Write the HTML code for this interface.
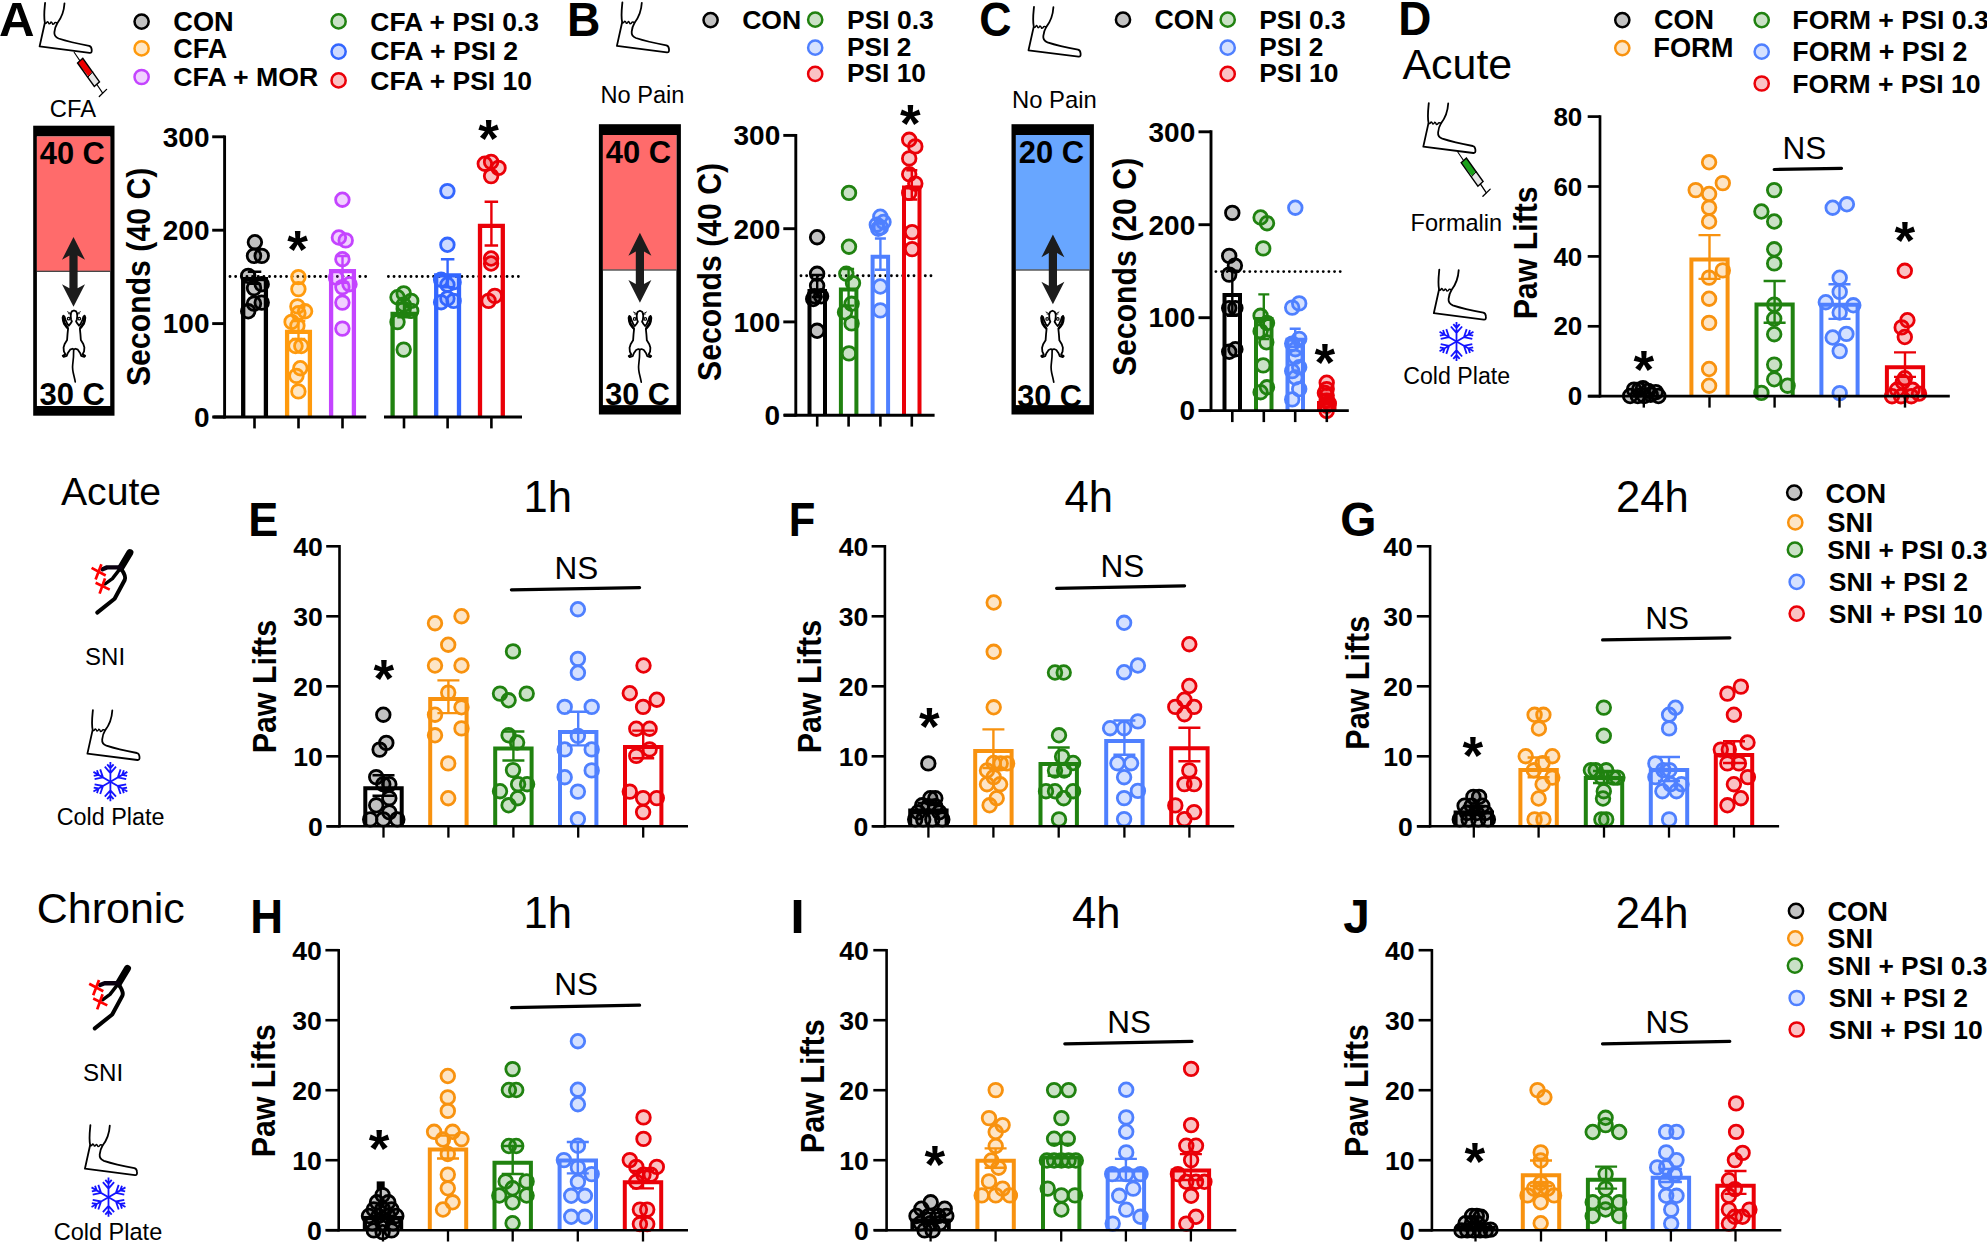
<!DOCTYPE html>
<html><head><meta charset="utf-8"><title>Figure</title>
<style>html,body{margin:0;padding:0;background:#fff;}svg{display:block;}text{font-family:"Liberation Sans",Arial,sans-serif;}</style>
</head><body>
<svg width="1987" height="1243" viewBox="0 0 1987 1243">
<rect width="1987" height="1243" fill="#fff"/>
<text transform="translate(-1.03,35.80) scale(1.0304,1)" font-weight="bold" font-size="47.8" fill="#000">A</text>
<g transform="translate(45.1,2.1) scale(1.0,1.0)" fill="none" stroke="#000" stroke-width="1.8" stroke-linejoin="round" stroke-linecap="round">
<path d="M0,0.8 C-0.6,7 -1.6,14 -0.25,20.6 L-5.5,44.3 L44.5,50.7 Q47,51 46.6,47.5 Q46.4,44.4 44,43.7 Q25,40.2 13.5,36.4 Q8.8,34.6 9.3,30 Q9.8,25 12.2,21.1 C16.5,15.6 19,8 19.4,1.2"/>
<path d="M-0.25,21.4 Q1.2,21.6 2.4,19.6 Q3.2,19.4 3.9,21.6 Q5,22 5.9,20 Q6.8,19.8 7.6,22.2 Q8.8,22.4 9.7,20.6 Q10.8,20 12.2,21.1" stroke-width="1.5"/>
</g>
<g transform="translate(0.0,0.0) scale(1.0)" stroke="#000" stroke-linecap="round">
<line x1="74.15" y1="52.3" x2="79.8" y2="60.6" stroke-width="1.1"/>
<polygon points="77.55,63 82.8,58.3 92.2,71.9 88.5,76.6 " fill="#ee0000" stroke="none"/>
<polygon points="88.5,76.6 92.2,71.9 99.5,81.8 94.3,86.5" fill="#e6e6e6" stroke="none"/>
<polygon points="77.55,63 82.8,58.3 99.5,81.8 94.3,86.5" fill="none" stroke-width="1.4" stroke-linejoin="miter"/>
<line x1="88.0" y1="77.0" x2="92.6" y2="72.1" stroke-width="1.0"/>
<line x1="96.9" y1="84.5" x2="102.6" y2="93" stroke-width="1.3"/>
<line x1="99.3" y1="96.5" x2="106.6" y2="89.4" stroke-width="1.3"/>
</g>
<text transform="translate(49.81,117.30) scale(1.0000,1)" font-size="23.75" fill="#000">CFA</text>
<circle cx="141.6" cy="21.6" r="7.1" fill="#000000" fill-opacity="0.24" stroke="#000000" stroke-width="2.5"/>
<circle cx="141.6" cy="48.4" r="7.1" fill="#ff9a0d" fill-opacity="0.24" stroke="#ff9a0d" stroke-width="2.5"/>
<circle cx="141.6" cy="77.0" r="7.1" fill="#c444ff" fill-opacity="0.24" stroke="#c444ff" stroke-width="2.5"/>
<circle cx="338.6" cy="21.4" r="7.1" fill="#208210" fill-opacity="0.24" stroke="#208210" stroke-width="2.5"/>
<circle cx="338.6" cy="51.6" r="7.1" fill="#3366ff" fill-opacity="0.24" stroke="#3366ff" stroke-width="2.5"/>
<circle cx="338.6" cy="80.4" r="7.1" fill="#ea0008" fill-opacity="0.24" stroke="#ea0008" stroke-width="2.5"/>
<text transform="translate(173.31,31.00) scale(1.0000,1)" font-weight="bold" font-size="27.19" fill="#000">CON</text>
<text transform="translate(173.32,57.60) scale(1.0000,1)" font-weight="bold" font-size="27" fill="#000">CFA</text>
<text transform="translate(173.33,86.00) scale(1.0000,1)" font-weight="bold" font-size="26.68" fill="#000">CFA + MOR</text>
<text transform="translate(370.34,31.00) scale(1.0000,1)" font-weight="bold" font-size="26.42" fill="#000">CFA + PSI 0.3</text>
<text transform="translate(370.34,60.40) scale(1.0000,1)" font-weight="bold" font-size="26.61" fill="#000">CFA + PSI 2</text>
<text transform="translate(370.34,89.60) scale(1.0000,1)" font-weight="bold" font-size="26.49" fill="#000">CFA + PSI 10</text>
<rect x="33.2" y="125.7" width="81.3" height="290.0" fill="#000"/>
<rect x="36.9" y="136.5" width="73.3" height="269.5" fill="#fff"/>
<rect x="36.9" y="136.5" width="73.3" height="134.4" fill="#ff6b6b"/>
<rect x="36.9" y="270.7" width="73.3" height="1.2" fill="#333"/>
<text transform="translate(39.74,163.60) scale(1.0000,1)" font-weight="bold" font-size="30.85" fill="#000">40 C</text>
<text transform="translate(39.43,405.30) scale(1.0000,1)" font-weight="bold" font-size="31.0" fill="#000">30 C</text>
<polygon points="73.5,236.9 85.0,259.8 77.6,255.6 77.6,288.2 85.0,284.2 73.5,306.8 62.0,284.2 69.4,288.2 69.4,255.6 62.0,259.8" fill="#1c1c1c"/>
<g transform="translate(55.00,305.00) scale(0.06431)" fill="#fff" stroke="#000" stroke-width="28" stroke-linejoin="round" stroke-linecap="round">
<path d="M290,690 C292,780 285,860 275,930 C262,1020 300,1100 315,1195" fill="none" stroke-width="26"/>
<path d="M295,85 L262,100 L245,135 L245,180 L250,225 L262,255 L240,290 L215,322 L190,290 L165,235 L150,185 L130,165 L118,195 L125,250 L140,295 L170,335 L203,372 L195,450 L188,545 L150,605 L133,660 L138,720 L160,765 L120,790 L135,805 L182,792 L200,745 L235,695 L270,680 L295,690 L320,680 L355,695 L390,745 L408,792 L455,805 L470,790 L430,765 L452,720 L457,660 L440,605 L402,545 L395,450 L387,372 L420,335 L450,295 L465,250 L472,195 L460,165 L440,185 L425,235 L400,290 L375,322 L350,290 L328,255 L340,225 L345,180 L345,135 L328,100 L295,85 Z"/>
<path d="M134,178 L146,275 L200,358 M456,178 L444,275 L390,358" fill="none" stroke-width="32"/>
<circle cx="212" cy="212" r="20" stroke-width="18"/><circle cx="378" cy="212" r="20" stroke-width="18"/>
<path d="M250,135 L195,105 M250,140 L210,135 M340,135 L395,105 M340,140 L380,135" fill="none" stroke-width="14"/>
</g>
<text transform="translate(149.90,386.11) rotate(-90) scale(1,1.08)" font-weight="bold" font-size="30.24">Seconds (40 C)</text>
<path d="M230.0,276.5 H366.5 M388.4,276.5 H522" stroke="#000" stroke-width="2.9" stroke-linecap="round" stroke-dasharray="0,5.65" fill="none"/>
<path d="M243.2,417.0 V279.1 H265.9 V417.0" fill="none" stroke="#000000" stroke-width="4.3"/>
<path d="M287.1,417.0 V331.9 H309.9 V417.0" fill="none" stroke="#ff9a0d" stroke-width="4.3"/>
<path d="M331.1,417.0 V271.1 H353.9 V417.0" fill="none" stroke="#c444ff" stroke-width="4.3"/>
<path d="M392.6,417.0 V313.8 H415.4 V417.0" fill="none" stroke="#208210" stroke-width="4.3"/>
<path d="M436.2,417.0 V275.4 H459.0 V417.0" fill="none" stroke="#3366ff" stroke-width="4.3"/>
<path d="M480.0,417.0 V225.8 H502.8 V417.0" fill="none" stroke="#ea0008" stroke-width="4.3"/>
<path d="M254.5,271.8 V283.9 M247.8,271.8 h13.5 M247.8,283.9 h13.5" fill="none" stroke="#000000" stroke-width="2.4"/>
<path d="M298.5,321.0 V339.0 M291.8,321.0 h13.5 M291.8,339.0 h13.5" fill="none" stroke="#ff9a0d" stroke-width="2.4"/>
<path d="M342.5,256.0 V282.8 M335.8,256.0 h13.5 M335.8,282.8 h13.5" fill="none" stroke="#c444ff" stroke-width="2.4"/>
<path d="M404.0,303.6 V317.3 M397.2,303.6 h13.5 M397.2,317.3 h13.5" fill="none" stroke="#208210" stroke-width="2.4"/>
<path d="M447.6,259.2 V287.2 M440.9,259.2 h13.5 M440.9,287.2 h13.5" fill="none" stroke="#3366ff" stroke-width="2.4"/>
<path d="M491.4,201.8 V245.5 M484.6,201.8 h13.5 M484.6,245.5 h13.5" fill="none" stroke="#ea0008" stroke-width="2.4"/>
<circle cx="254.9" cy="242.2" r="6.8" fill="#000000" fill-opacity="0.24" stroke="#000000" stroke-width="2.8"/>
<circle cx="254.0" cy="255.9" r="6.8" fill="#000000" fill-opacity="0.24" stroke="#000000" stroke-width="2.8"/>
<circle cx="261.7" cy="255.9" r="6.8" fill="#000000" fill-opacity="0.24" stroke="#000000" stroke-width="2.8"/>
<circle cx="248.2" cy="275.9" r="6.8" fill="#000000" fill-opacity="0.24" stroke="#000000" stroke-width="2.8"/>
<circle cx="261.7" cy="284.2" r="6.8" fill="#000000" fill-opacity="0.24" stroke="#000000" stroke-width="2.8"/>
<circle cx="254.0" cy="288.1" r="6.8" fill="#000000" fill-opacity="0.24" stroke="#000000" stroke-width="2.8"/>
<circle cx="261.7" cy="302.6" r="6.8" fill="#000000" fill-opacity="0.24" stroke="#000000" stroke-width="2.8"/>
<circle cx="254.0" cy="303.6" r="6.8" fill="#000000" fill-opacity="0.24" stroke="#000000" stroke-width="2.8"/>
<circle cx="248.2" cy="311.3" r="6.8" fill="#000000" fill-opacity="0.24" stroke="#000000" stroke-width="2.8"/>
<circle cx="298.4" cy="277.1" r="6.8" fill="#ff9a0d" fill-opacity="0.24" stroke="#ff9a0d" stroke-width="2.8"/>
<circle cx="298.4" cy="289.1" r="6.8" fill="#ff9a0d" fill-opacity="0.24" stroke="#ff9a0d" stroke-width="2.8"/>
<circle cx="297.4" cy="306.4" r="6.8" fill="#ff9a0d" fill-opacity="0.24" stroke="#ff9a0d" stroke-width="2.8"/>
<circle cx="305.1" cy="311.3" r="6.8" fill="#ff9a0d" fill-opacity="0.24" stroke="#ff9a0d" stroke-width="2.8"/>
<circle cx="298.4" cy="313.2" r="6.8" fill="#ff9a0d" fill-opacity="0.24" stroke="#ff9a0d" stroke-width="2.8"/>
<circle cx="291.6" cy="321.9" r="6.8" fill="#ff9a0d" fill-opacity="0.24" stroke="#ff9a0d" stroke-width="2.8"/>
<circle cx="297.4" cy="325.8" r="6.8" fill="#ff9a0d" fill-opacity="0.24" stroke="#ff9a0d" stroke-width="2.8"/>
<circle cx="295.5" cy="346.0" r="6.8" fill="#ff9a0d" fill-opacity="0.24" stroke="#ff9a0d" stroke-width="2.8"/>
<circle cx="301.3" cy="346.0" r="6.8" fill="#ff9a0d" fill-opacity="0.24" stroke="#ff9a0d" stroke-width="2.8"/>
<circle cx="300.3" cy="368.2" r="6.8" fill="#ff9a0d" fill-opacity="0.24" stroke="#ff9a0d" stroke-width="2.8"/>
<circle cx="296.4" cy="375.9" r="6.8" fill="#ff9a0d" fill-opacity="0.24" stroke="#ff9a0d" stroke-width="2.8"/>
<circle cx="298.4" cy="391.4" r="6.8" fill="#ff9a0d" fill-opacity="0.24" stroke="#ff9a0d" stroke-width="2.8"/>
<circle cx="342.4" cy="199.7" r="6.8" fill="#c444ff" fill-opacity="0.24" stroke="#c444ff" stroke-width="2.8"/>
<circle cx="338.9" cy="237.5" r="6.8" fill="#c444ff" fill-opacity="0.24" stroke="#c444ff" stroke-width="2.8"/>
<circle cx="345.7" cy="240.4" r="6.8" fill="#c444ff" fill-opacity="0.24" stroke="#c444ff" stroke-width="2.8"/>
<circle cx="342.4" cy="259.2" r="6.8" fill="#c444ff" fill-opacity="0.24" stroke="#c444ff" stroke-width="2.8"/>
<circle cx="336.0" cy="277.5" r="6.8" fill="#c444ff" fill-opacity="0.24" stroke="#c444ff" stroke-width="2.8"/>
<circle cx="349.5" cy="284.2" r="6.8" fill="#c444ff" fill-opacity="0.24" stroke="#c444ff" stroke-width="2.8"/>
<circle cx="342.4" cy="287.1" r="6.8" fill="#c444ff" fill-opacity="0.24" stroke="#c444ff" stroke-width="2.8"/>
<circle cx="342.4" cy="302.6" r="6.8" fill="#c444ff" fill-opacity="0.24" stroke="#c444ff" stroke-width="2.8"/>
<circle cx="342.4" cy="328.6" r="6.8" fill="#c444ff" fill-opacity="0.24" stroke="#c444ff" stroke-width="2.8"/>
<circle cx="403.7" cy="293.4" r="6.8" fill="#208210" fill-opacity="0.24" stroke="#208210" stroke-width="2.8"/>
<circle cx="397.5" cy="297.2" r="6.8" fill="#208210" fill-opacity="0.24" stroke="#208210" stroke-width="2.8"/>
<circle cx="411.2" cy="300.9" r="6.8" fill="#208210" fill-opacity="0.24" stroke="#208210" stroke-width="2.8"/>
<circle cx="403.7" cy="304.7" r="6.8" fill="#208210" fill-opacity="0.24" stroke="#208210" stroke-width="2.8"/>
<circle cx="411.2" cy="310.9" r="6.8" fill="#208210" fill-opacity="0.24" stroke="#208210" stroke-width="2.8"/>
<circle cx="397.5" cy="322.1" r="6.8" fill="#208210" fill-opacity="0.24" stroke="#208210" stroke-width="2.8"/>
<circle cx="403.7" cy="349.6" r="6.8" fill="#208210" fill-opacity="0.24" stroke="#208210" stroke-width="2.8"/>
<circle cx="403.7" cy="308.9" r="6.8" fill="#208210" fill-opacity="0.24" stroke="#208210" stroke-width="2.8"/>
<circle cx="447.4" cy="191.1" r="6.8" fill="#3366ff" fill-opacity="0.24" stroke="#3366ff" stroke-width="2.8"/>
<circle cx="447.4" cy="244.8" r="6.8" fill="#3366ff" fill-opacity="0.24" stroke="#3366ff" stroke-width="2.8"/>
<circle cx="441.1" cy="279.7" r="6.8" fill="#3366ff" fill-opacity="0.24" stroke="#3366ff" stroke-width="2.8"/>
<circle cx="453.6" cy="282.2" r="6.8" fill="#3366ff" fill-opacity="0.24" stroke="#3366ff" stroke-width="2.8"/>
<circle cx="447.4" cy="284.7" r="6.8" fill="#3366ff" fill-opacity="0.24" stroke="#3366ff" stroke-width="2.8"/>
<circle cx="441.1" cy="302.2" r="6.8" fill="#3366ff" fill-opacity="0.24" stroke="#3366ff" stroke-width="2.8"/>
<circle cx="453.6" cy="300.9" r="6.8" fill="#3366ff" fill-opacity="0.24" stroke="#3366ff" stroke-width="2.8"/>
<circle cx="447.4" cy="298.4" r="6.8" fill="#3366ff" fill-opacity="0.24" stroke="#3366ff" stroke-width="2.8"/>
<circle cx="484.8" cy="163.7" r="6.8" fill="#ea0008" fill-opacity="0.24" stroke="#ea0008" stroke-width="2.8"/>
<circle cx="491.1" cy="161.9" r="6.8" fill="#ea0008" fill-opacity="0.24" stroke="#ea0008" stroke-width="2.8"/>
<circle cx="498.5" cy="167.9" r="6.8" fill="#ea0008" fill-opacity="0.24" stroke="#ea0008" stroke-width="2.8"/>
<circle cx="491.1" cy="176.1" r="6.8" fill="#ea0008" fill-opacity="0.24" stroke="#ea0008" stroke-width="2.8"/>
<circle cx="491.1" cy="258.5" r="6.8" fill="#ea0008" fill-opacity="0.24" stroke="#ea0008" stroke-width="2.8"/>
<circle cx="491.1" cy="263.5" r="6.8" fill="#ea0008" fill-opacity="0.24" stroke="#ea0008" stroke-width="2.8"/>
<circle cx="494.8" cy="295.9" r="6.8" fill="#ea0008" fill-opacity="0.24" stroke="#ea0008" stroke-width="2.8"/>
<circle cx="488.6" cy="300.9" r="6.8" fill="#ea0008" fill-opacity="0.24" stroke="#ea0008" stroke-width="2.8"/>
<text x="287.2" y="268.3" font-weight="bold" font-size="53">*</text>
<text x="478.3" y="156.8" font-weight="bold" font-size="53">*</text>
<path d="M224.6,135.4 V418.4" stroke="#000" stroke-width="2.9" fill="none"/>
<path d="M213.4,417.0 H366.2" stroke="#000" stroke-width="2.9" fill="none"/>
<path d="M384.0,417.0 H522.0" stroke="#000" stroke-width="2.9" fill="none"/>
<path d="M212.2,417.0 H224.6" stroke="#000" stroke-width="2.9" fill="none"/>
<text x="193.88" y="426.80" font-weight="bold" font-size="28">0</text>
<path d="M212.2,323.6 H224.6" stroke="#000" stroke-width="2.9" fill="none"/>
<text x="162.80" y="333.40" font-weight="bold" font-size="28">100</text>
<path d="M212.2,230.2 H224.6" stroke="#000" stroke-width="2.9" fill="none"/>
<text x="162.80" y="240.00" font-weight="bold" font-size="28">200</text>
<path d="M212.2,136.8 H224.6" stroke="#000" stroke-width="2.9" fill="none"/>
<text x="162.80" y="146.60" font-weight="bold" font-size="28">300</text>
<path d="M254.5,417.0 V428.4" stroke="#000" stroke-width="2.6" fill="none"/>
<path d="M298.5,417.0 V428.4" stroke="#000" stroke-width="2.6" fill="none"/>
<path d="M342.5,417.0 V428.4" stroke="#000" stroke-width="2.6" fill="none"/>
<path d="M404.0,417.0 V428.4" stroke="#000" stroke-width="2.6" fill="none"/>
<path d="M447.6,417.0 V428.4" stroke="#000" stroke-width="2.6" fill="none"/>
<path d="M491.4,417.0 V428.4" stroke="#000" stroke-width="2.6" fill="none"/>
<text transform="translate(567.00,35.80) scale(0.9671,1)" font-weight="bold" font-size="47.8" fill="#000">B</text>
<g transform="translate(622.4,1.6) scale(1.0,1.0)" fill="none" stroke="#000" stroke-width="1.8" stroke-linejoin="round" stroke-linecap="round">
<path d="M0,0.8 C-0.6,7 -1.6,14 -0.25,20.6 L-5.5,44.3 L44.5,50.7 Q47,51 46.6,47.5 Q46.4,44.4 44,43.7 Q25,40.2 13.5,36.4 Q8.8,34.6 9.3,30 Q9.8,25 12.2,21.1 C16.5,15.6 19,8 19.4,1.2"/>
<path d="M-0.25,21.4 Q1.2,21.6 2.4,19.6 Q3.2,19.4 3.9,21.6 Q5,22 5.9,20 Q6.8,19.8 7.6,22.2 Q8.8,22.4 9.7,20.6 Q10.8,20 12.2,21.1" stroke-width="1.5"/>
</g>
<circle cx="710.6" cy="20.1" r="7.1" fill="#000000" fill-opacity="0.24" stroke="#000000" stroke-width="2.5"/>
<circle cx="815.2" cy="19.7" r="7.1" fill="#208210" fill-opacity="0.24" stroke="#208210" stroke-width="2.5"/>
<circle cx="815.2" cy="47.7" r="7.1" fill="#4f80ff" fill-opacity="0.24" stroke="#4f80ff" stroke-width="2.5"/>
<circle cx="815.2" cy="73.9" r="7.1" fill="#ea0008" fill-opacity="0.24" stroke="#ea0008" stroke-width="2.5"/>
<text transform="translate(742.14,29.00) scale(1.0000,1)" font-weight="bold" font-size="26.62" fill="#000">CON</text>
<text transform="translate(847.08,29.00) scale(1.0000,1)" font-weight="bold" font-size="26.42" fill="#000">PSI 0.3</text>
<text transform="translate(847.09,56.30) scale(1.0000,1)" font-weight="bold" font-size="26.28" fill="#000">PSI 2</text>
<text transform="translate(847.09,82.40) scale(1.0000,1)" font-weight="bold" font-size="26.25" fill="#000">PSI 10</text>
<text transform="translate(600.41,102.70) scale(1.0000,1)" font-size="23.61" fill="#000">No Pain</text>
<rect x="598.9" y="124.2" width="82.0" height="290.3" fill="#000"/>
<rect x="602.9" y="135.0" width="73.5" height="270.1" fill="#fff"/>
<rect x="602.9" y="135.0" width="73.5" height="134.6" fill="#ff6b6b"/>
<rect x="602.9" y="269.4" width="73.5" height="1.2" fill="#333"/>
<text transform="translate(605.74,162.70) scale(1.0000,1)" font-weight="bold" font-size="30.92" fill="#000">40 C</text>
<text transform="translate(605.13,405.00) scale(1.0000,1)" font-weight="bold" font-size="30.63" fill="#000">30 C</text>
<polygon points="639.9,232.8 651.4,255.7 644.0,251.5 644.0,284.1 651.4,280.1 639.9,302.7 628.4,280.1 635.8,284.1 635.8,251.5 628.4,255.7" fill="#1c1c1c"/>
<g transform="translate(621.00,305.30) scale(0.06431)" fill="#fff" stroke="#000" stroke-width="28" stroke-linejoin="round" stroke-linecap="round">
<path d="M290,690 C292,780 285,860 275,930 C262,1020 300,1100 315,1195" fill="none" stroke-width="26"/>
<path d="M295,85 L262,100 L245,135 L245,180 L250,225 L262,255 L240,290 L215,322 L190,290 L165,235 L150,185 L130,165 L118,195 L125,250 L140,295 L170,335 L203,372 L195,450 L188,545 L150,605 L133,660 L138,720 L160,765 L120,790 L135,805 L182,792 L200,745 L235,695 L270,680 L295,690 L320,680 L355,695 L390,745 L408,792 L455,805 L470,790 L430,765 L452,720 L457,660 L440,605 L402,545 L395,450 L387,372 L420,335 L450,295 L465,250 L472,195 L460,165 L440,185 L425,235 L400,290 L375,322 L350,290 L328,255 L340,225 L345,180 L345,135 L328,100 L295,85 Z"/>
<path d="M134,178 L146,275 L200,358 M456,178 L444,275 L390,358" fill="none" stroke-width="32"/>
<circle cx="212" cy="212" r="20" stroke-width="18"/><circle cx="378" cy="212" r="20" stroke-width="18"/>
<path d="M250,135 L195,105 M250,140 L210,135 M340,135 L395,105 M340,140 L380,135" fill="none" stroke-width="14"/>
</g>
<text transform="translate(720.90,380.91) rotate(-90) scale(1,1.09)" font-weight="bold" font-size="30.17">Seconds (40 C)</text>
<path d="M801.0,275.7 H931" stroke="#000" stroke-width="2.9" stroke-linecap="round" stroke-dasharray="0,5.65" fill="none"/>
<path d="M809.5,415.2 V290.9 H825.0 V415.2" fill="none" stroke="#000000" stroke-width="4.0"/>
<path d="M840.9,415.2 V289.6 H856.4 V415.2" fill="none" stroke="#208210" stroke-width="4.0"/>
<path d="M872.6,415.2 V256.7 H888.1 V415.2" fill="none" stroke="#4f80ff" stroke-width="4.0"/>
<path d="M904.0,415.2 V187.4 H919.5 V415.2" fill="none" stroke="#ea0008" stroke-width="4.0"/>
<path d="M817.2,275.0 V297.0 M811.7,275.0 h11 M811.7,297.0 h11" fill="none" stroke="#000000" stroke-width="2.4"/>
<path d="M848.6,269.0 V305.6 M843.1,269.0 h11 M843.1,305.6 h11" fill="none" stroke="#208210" stroke-width="2.4"/>
<path d="M880.4,238.5 V269.8 M874.9,238.5 h11 M874.9,269.8 h11" fill="none" stroke="#4f80ff" stroke-width="2.4"/>
<path d="M911.8,170.3 V199.5 M906.3,170.3 h11 M906.3,199.5 h11" fill="none" stroke="#ea0008" stroke-width="2.4"/>
<circle cx="817.1" cy="237.2" r="6.8" fill="#000000" fill-opacity="0.24" stroke="#000000" stroke-width="2.8"/>
<circle cx="817.1" cy="273.8" r="6.8" fill="#000000" fill-opacity="0.24" stroke="#000000" stroke-width="2.8"/>
<circle cx="817.1" cy="285.7" r="6.8" fill="#000000" fill-opacity="0.24" stroke="#000000" stroke-width="2.8"/>
<circle cx="814.5" cy="296.3" r="6.8" fill="#000000" fill-opacity="0.24" stroke="#000000" stroke-width="2.8"/>
<circle cx="821.1" cy="296.3" r="6.8" fill="#000000" fill-opacity="0.24" stroke="#000000" stroke-width="2.8"/>
<circle cx="813.2" cy="299.0" r="6.8" fill="#000000" fill-opacity="0.24" stroke="#000000" stroke-width="2.8"/>
<circle cx="817.1" cy="330.8" r="6.8" fill="#000000" fill-opacity="0.24" stroke="#000000" stroke-width="2.8"/>
<circle cx="849.0" cy="192.9" r="6.8" fill="#208210" fill-opacity="0.24" stroke="#208210" stroke-width="2.8"/>
<circle cx="849.0" cy="246.7" r="6.8" fill="#208210" fill-opacity="0.24" stroke="#208210" stroke-width="2.8"/>
<circle cx="846.3" cy="273.8" r="6.8" fill="#208210" fill-opacity="0.24" stroke="#208210" stroke-width="2.8"/>
<circle cx="853.0" cy="283.1" r="6.8" fill="#208210" fill-opacity="0.24" stroke="#208210" stroke-width="2.8"/>
<circle cx="851.6" cy="303.8" r="6.8" fill="#208210" fill-opacity="0.24" stroke="#208210" stroke-width="2.8"/>
<circle cx="845.0" cy="312.3" r="6.8" fill="#208210" fill-opacity="0.24" stroke="#208210" stroke-width="2.8"/>
<circle cx="851.6" cy="323.4" r="6.8" fill="#208210" fill-opacity="0.24" stroke="#208210" stroke-width="2.8"/>
<circle cx="849.0" cy="353.4" r="6.8" fill="#208210" fill-opacity="0.24" stroke="#208210" stroke-width="2.8"/>
<circle cx="880.3" cy="216.7" r="6.8" fill="#4f80ff" fill-opacity="0.24" stroke="#4f80ff" stroke-width="2.8"/>
<circle cx="883.5" cy="222.0" r="6.8" fill="#4f80ff" fill-opacity="0.24" stroke="#4f80ff" stroke-width="2.8"/>
<circle cx="876.8" cy="224.7" r="6.8" fill="#4f80ff" fill-opacity="0.24" stroke="#4f80ff" stroke-width="2.8"/>
<circle cx="880.8" cy="227.4" r="6.8" fill="#4f80ff" fill-opacity="0.24" stroke="#4f80ff" stroke-width="2.8"/>
<circle cx="878.2" cy="228.7" r="6.8" fill="#4f80ff" fill-opacity="0.24" stroke="#4f80ff" stroke-width="2.8"/>
<circle cx="880.3" cy="286.5" r="6.8" fill="#4f80ff" fill-opacity="0.24" stroke="#4f80ff" stroke-width="2.8"/>
<circle cx="880.3" cy="310.4" r="6.8" fill="#4f80ff" fill-opacity="0.24" stroke="#4f80ff" stroke-width="2.8"/>
<circle cx="909.2" cy="139.8" r="6.8" fill="#ea0008" fill-opacity="0.24" stroke="#ea0008" stroke-width="2.8"/>
<circle cx="915.3" cy="146.4" r="6.8" fill="#ea0008" fill-opacity="0.24" stroke="#ea0008" stroke-width="2.8"/>
<circle cx="909.2" cy="158.4" r="6.8" fill="#ea0008" fill-opacity="0.24" stroke="#ea0008" stroke-width="2.8"/>
<circle cx="909.2" cy="174.3" r="6.8" fill="#ea0008" fill-opacity="0.24" stroke="#ea0008" stroke-width="2.8"/>
<circle cx="915.3" cy="183.6" r="6.8" fill="#ea0008" fill-opacity="0.24" stroke="#ea0008" stroke-width="2.8"/>
<circle cx="909.2" cy="192.9" r="6.8" fill="#ea0008" fill-opacity="0.24" stroke="#ea0008" stroke-width="2.8"/>
<circle cx="912.1" cy="232.1" r="6.8" fill="#ea0008" fill-opacity="0.24" stroke="#ea0008" stroke-width="2.8"/>
<circle cx="912.1" cy="249.1" r="6.8" fill="#ea0008" fill-opacity="0.24" stroke="#ea0008" stroke-width="2.8"/>
<text x="900.0" y="142.4" font-weight="bold" font-size="53">*</text>
<path d="M795.8,134.0 V416.6" stroke="#000" stroke-width="2.9" fill="none"/>
<path d="M783.9,415.2 H934.6" stroke="#000" stroke-width="2.9" fill="none"/>
<path d="M783.3,415.2 H795.8" stroke="#000" stroke-width="2.9" fill="none"/>
<text x="764.58" y="425.00" font-weight="bold" font-size="28">0</text>
<path d="M783.3,321.9 H795.8" stroke="#000" stroke-width="2.9" fill="none"/>
<text x="733.50" y="331.75" font-weight="bold" font-size="28">100</text>
<path d="M783.3,228.7 H795.8" stroke="#000" stroke-width="2.9" fill="none"/>
<text x="733.50" y="238.50" font-weight="bold" font-size="28">200</text>
<path d="M783.3,135.4 H795.8" stroke="#000" stroke-width="2.9" fill="none"/>
<text x="733.50" y="145.25" font-weight="bold" font-size="28">300</text>
<path d="M817.2,415.2 V426.6" stroke="#000" stroke-width="2.6" fill="none"/>
<path d="M848.6,415.2 V426.6" stroke="#000" stroke-width="2.6" fill="none"/>
<path d="M880.4,415.2 V426.6" stroke="#000" stroke-width="2.6" fill="none"/>
<path d="M911.8,415.2 V426.6" stroke="#000" stroke-width="2.6" fill="none"/>
<text transform="translate(979.21,35.80) scale(0.9358,1)" font-weight="bold" font-size="47.8" fill="#000">C</text>
<g transform="translate(1034.0,6.0) scale(1.0,1.0)" fill="none" stroke="#000" stroke-width="1.8" stroke-linejoin="round" stroke-linecap="round">
<path d="M0,0.8 C-0.6,7 -1.6,14 -0.25,20.6 L-5.5,44.3 L44.5,50.7 Q47,51 46.6,47.5 Q46.4,44.4 44,43.7 Q25,40.2 13.5,36.4 Q8.8,34.6 9.3,30 Q9.8,25 12.2,21.1 C16.5,15.6 19,8 19.4,1.2"/>
<path d="M-0.25,21.4 Q1.2,21.6 2.4,19.6 Q3.2,19.4 3.9,21.6 Q5,22 5.9,20 Q6.8,19.8 7.6,22.2 Q8.8,22.4 9.7,20.6 Q10.8,20 12.2,21.1" stroke-width="1.5"/>
</g>
<circle cx="1123.0" cy="19.7" r="7.1" fill="#000000" fill-opacity="0.24" stroke="#000000" stroke-width="2.5"/>
<circle cx="1227.7" cy="19.7" r="7.1" fill="#208210" fill-opacity="0.24" stroke="#208210" stroke-width="2.5"/>
<circle cx="1227.7" cy="47.7" r="7.1" fill="#4f80ff" fill-opacity="0.24" stroke="#4f80ff" stroke-width="2.5"/>
<circle cx="1227.7" cy="73.9" r="7.1" fill="#ea0008" fill-opacity="0.24" stroke="#ea0008" stroke-width="2.5"/>
<text transform="translate(1154.53,29.00) scale(1.0000,1)" font-weight="bold" font-size="26.76" fill="#000">CON</text>
<text transform="translate(1259.19,29.00) scale(1.0000,1)" font-weight="bold" font-size="26.38" fill="#000">PSI 0.3</text>
<text transform="translate(1259.19,56.30) scale(1.0000,1)" font-weight="bold" font-size="26.24" fill="#000">PSI 2</text>
<text transform="translate(1259.18,82.40) scale(1.0000,1)" font-weight="bold" font-size="26.42" fill="#000">PSI 10</text>
<text transform="translate(1011.99,107.60) scale(1.0000,1)" font-size="23.84" fill="#000">No Pain</text>
<rect x="1011.5" y="124.2" width="82.4" height="290.3" fill="#000"/>
<rect x="1015.9" y="135.0" width="73.5" height="270.1" fill="#fff"/>
<rect x="1015.9" y="135.0" width="73.5" height="134.6" fill="#68a6ff"/>
<rect x="1015.9" y="269.4" width="73.5" height="1.2" fill="#333"/>
<text transform="translate(1018.72,162.70) scale(1.0000,1)" font-weight="bold" font-size="30.93" fill="#000">20 C</text>
<text transform="translate(1017.13,406.80) scale(1.0000,1)" font-weight="bold" font-size="30.63" fill="#000">30 C</text>
<polygon points="1052.9,234.4 1064.4,257.3 1057.0,253.1 1057.0,285.7 1064.4,281.7 1052.9,304.3 1041.4,281.7 1048.8,285.7 1048.8,253.1 1041.4,257.3" fill="#1c1c1c"/>
<g transform="translate(1033.50,305.30) scale(0.06431)" fill="#fff" stroke="#000" stroke-width="28" stroke-linejoin="round" stroke-linecap="round">
<path d="M290,690 C292,780 285,860 275,930 C262,1020 300,1100 315,1195" fill="none" stroke-width="26"/>
<path d="M295,85 L262,100 L245,135 L245,180 L250,225 L262,255 L240,290 L215,322 L190,290 L165,235 L150,185 L130,165 L118,195 L125,250 L140,295 L170,335 L203,372 L195,450 L188,545 L150,605 L133,660 L138,720 L160,765 L120,790 L135,805 L182,792 L200,745 L235,695 L270,680 L295,690 L320,680 L355,695 L390,745 L408,792 L455,805 L470,790 L430,765 L452,720 L457,660 L440,605 L402,545 L395,450 L387,372 L420,335 L450,295 L465,250 L472,195 L460,165 L440,185 L425,235 L400,290 L375,322 L350,290 L328,255 L340,225 L345,180 L345,135 L328,100 L295,85 Z"/>
<path d="M134,178 L146,275 L200,358 M456,178 L444,275 L390,358" fill="none" stroke-width="32"/>
<circle cx="212" cy="212" r="20" stroke-width="18"/><circle cx="378" cy="212" r="20" stroke-width="18"/>
<path d="M250,135 L195,105 M250,140 L210,135 M340,135 L395,105 M340,140 L380,135" fill="none" stroke-width="14"/>
</g>
<text transform="translate(1135.70,376.11) rotate(-90) scale(1,1.09)" font-weight="bold" font-size="30.23">Seconds (20 C)</text>
<path d="M1215.9,271.6 H1345.6" stroke="#000" stroke-width="2.9" stroke-linecap="round" stroke-dasharray="0,5.65" fill="none"/>
<path d="M1224.5,410.6 V295.1 H1240.0 V410.6" fill="none" stroke="#000000" stroke-width="4.0"/>
<path d="M1256.0,410.6 V319.1 H1271.5 V410.6" fill="none" stroke="#208210" stroke-width="4.0"/>
<path d="M1287.5,410.6 V339.7 H1303.0 V410.6" fill="none" stroke="#4f80ff" stroke-width="4.0"/>
<path d="M1319.0,410.6 V403.0 H1334.5 V410.6" fill="none" stroke="#ea0008" stroke-width="4.0"/>
<path d="M1232.3,270.8 V315.8 M1226.8,270.8 h11 M1226.8,315.8 h11" fill="none" stroke="#000000" stroke-width="2.4"/>
<path d="M1263.8,294.4 V339.0 M1258.3,294.4 h11 M1258.3,339.0 h11" fill="none" stroke="#208210" stroke-width="2.4"/>
<path d="M1295.2,328.7 V346.7 M1289.7,328.7 h11 M1289.7,346.7 h11" fill="none" stroke="#4f80ff" stroke-width="2.4"/>
<path d="M1326.8,398.0 V404.0 M1321.3,398.0 h11 M1321.3,404.0 h11" fill="none" stroke="#ea0008" stroke-width="2.4"/>
<circle cx="1232.3" cy="212.9" r="6.8" fill="#000000" fill-opacity="0.24" stroke="#000000" stroke-width="2.8"/>
<circle cx="1229.2" cy="255.9" r="6.8" fill="#000000" fill-opacity="0.24" stroke="#000000" stroke-width="2.8"/>
<circle cx="1234.9" cy="265.6" r="6.8" fill="#000000" fill-opacity="0.24" stroke="#000000" stroke-width="2.8"/>
<circle cx="1229.2" cy="274.6" r="6.8" fill="#000000" fill-opacity="0.24" stroke="#000000" stroke-width="2.8"/>
<circle cx="1229.2" cy="308.1" r="6.8" fill="#000000" fill-opacity="0.24" stroke="#000000" stroke-width="2.8"/>
<circle cx="1235.4" cy="308.1" r="6.8" fill="#000000" fill-opacity="0.24" stroke="#000000" stroke-width="2.8"/>
<circle cx="1229.2" cy="351.8" r="6.8" fill="#000000" fill-opacity="0.24" stroke="#000000" stroke-width="2.8"/>
<circle cx="1235.4" cy="349.2" r="6.8" fill="#000000" fill-opacity="0.24" stroke="#000000" stroke-width="2.8"/>
<circle cx="1260.6" cy="217.5" r="6.8" fill="#208210" fill-opacity="0.24" stroke="#208210" stroke-width="2.8"/>
<circle cx="1267.0" cy="223.2" r="6.8" fill="#208210" fill-opacity="0.24" stroke="#208210" stroke-width="2.8"/>
<circle cx="1263.2" cy="248.4" r="6.8" fill="#208210" fill-opacity="0.24" stroke="#208210" stroke-width="2.8"/>
<circle cx="1260.6" cy="315.8" r="6.8" fill="#208210" fill-opacity="0.24" stroke="#208210" stroke-width="2.8"/>
<circle cx="1267.0" cy="323.0" r="6.8" fill="#208210" fill-opacity="0.24" stroke="#208210" stroke-width="2.8"/>
<circle cx="1260.6" cy="331.2" r="6.8" fill="#208210" fill-opacity="0.24" stroke="#208210" stroke-width="2.8"/>
<circle cx="1266.3" cy="342.3" r="6.8" fill="#208210" fill-opacity="0.24" stroke="#208210" stroke-width="2.8"/>
<circle cx="1263.2" cy="365.4" r="6.8" fill="#208210" fill-opacity="0.24" stroke="#208210" stroke-width="2.8"/>
<circle cx="1267.0" cy="387.3" r="6.8" fill="#208210" fill-opacity="0.24" stroke="#208210" stroke-width="2.8"/>
<circle cx="1260.6" cy="392.2" r="6.8" fill="#208210" fill-opacity="0.24" stroke="#208210" stroke-width="2.8"/>
<circle cx="1295.3" cy="207.7" r="6.8" fill="#4f80ff" fill-opacity="0.24" stroke="#4f80ff" stroke-width="2.8"/>
<circle cx="1299.2" cy="303.4" r="6.8" fill="#4f80ff" fill-opacity="0.24" stroke="#4f80ff" stroke-width="2.8"/>
<circle cx="1292.2" cy="307.6" r="6.8" fill="#4f80ff" fill-opacity="0.24" stroke="#4f80ff" stroke-width="2.8"/>
<circle cx="1299.2" cy="338.9" r="6.8" fill="#4f80ff" fill-opacity="0.24" stroke="#4f80ff" stroke-width="2.8"/>
<circle cx="1292.2" cy="343.6" r="6.8" fill="#4f80ff" fill-opacity="0.24" stroke="#4f80ff" stroke-width="2.8"/>
<circle cx="1295.3" cy="349.2" r="6.8" fill="#4f80ff" fill-opacity="0.24" stroke="#4f80ff" stroke-width="2.8"/>
<circle cx="1295.3" cy="356.9" r="6.8" fill="#4f80ff" fill-opacity="0.24" stroke="#4f80ff" stroke-width="2.8"/>
<circle cx="1299.2" cy="367.2" r="6.8" fill="#4f80ff" fill-opacity="0.24" stroke="#4f80ff" stroke-width="2.8"/>
<circle cx="1292.2" cy="371.1" r="6.8" fill="#4f80ff" fill-opacity="0.24" stroke="#4f80ff" stroke-width="2.8"/>
<circle cx="1295.3" cy="377.5" r="6.8" fill="#4f80ff" fill-opacity="0.24" stroke="#4f80ff" stroke-width="2.8"/>
<circle cx="1299.2" cy="389.1" r="6.8" fill="#4f80ff" fill-opacity="0.24" stroke="#4f80ff" stroke-width="2.8"/>
<circle cx="1292.2" cy="399.4" r="6.8" fill="#4f80ff" fill-opacity="0.24" stroke="#4f80ff" stroke-width="2.8"/>
<circle cx="1326.7" cy="382.7" r="6.8" fill="#ea0008" fill-opacity="0.24" stroke="#ea0008" stroke-width="2.8"/>
<circle cx="1326.7" cy="389.1" r="6.8" fill="#ea0008" fill-opacity="0.24" stroke="#ea0008" stroke-width="2.8"/>
<circle cx="1326.7" cy="395.5" r="6.8" fill="#ea0008" fill-opacity="0.24" stroke="#ea0008" stroke-width="2.8"/>
<circle cx="1326.7" cy="400.7" r="6.8" fill="#ea0008" fill-opacity="0.24" stroke="#ea0008" stroke-width="2.8"/>
<circle cx="1326.7" cy="405.8" r="6.8" fill="#ea0008" fill-opacity="0.24" stroke="#ea0008" stroke-width="2.8"/>
<circle cx="1326.7" cy="411.0" r="6.8" fill="#ea0008" fill-opacity="0.24" stroke="#ea0008" stroke-width="2.8"/>
<circle cx="1324.9" cy="393.0" r="6.8" fill="#ea0008" fill-opacity="0.24" stroke="#ea0008" stroke-width="2.8"/>
<circle cx="1328.8" cy="403.2" r="6.8" fill="#ea0008" fill-opacity="0.24" stroke="#ea0008" stroke-width="2.8"/>
<text x="1314.6" y="381.2" font-weight="bold" font-size="53">*</text>
<path d="M1211.0,130.3 V412.1" stroke="#000" stroke-width="2.9" fill="none"/>
<path d="M1199.0,410.6 H1348.8" stroke="#000" stroke-width="2.9" fill="none"/>
<path d="M1198.5,410.6 H1211.0" stroke="#000" stroke-width="2.9" fill="none"/>
<text x="1179.58" y="420.40" font-weight="bold" font-size="28">0</text>
<path d="M1198.5,317.7 H1211.0" stroke="#000" stroke-width="2.9" fill="none"/>
<text x="1148.50" y="327.45" font-weight="bold" font-size="28">100</text>
<path d="M1198.5,224.7 H1211.0" stroke="#000" stroke-width="2.9" fill="none"/>
<text x="1148.50" y="234.50" font-weight="bold" font-size="28">200</text>
<path d="M1198.5,131.8 H1211.0" stroke="#000" stroke-width="2.9" fill="none"/>
<text x="1148.50" y="141.55" font-weight="bold" font-size="28">300</text>
<path d="M1232.3,410.6 V422.1" stroke="#000" stroke-width="2.6" fill="none"/>
<path d="M1263.8,410.6 V422.1" stroke="#000" stroke-width="2.6" fill="none"/>
<path d="M1295.2,410.6 V422.1" stroke="#000" stroke-width="2.6" fill="none"/>
<path d="M1326.8,410.6 V422.1" stroke="#000" stroke-width="2.6" fill="none"/>
<text transform="translate(1398.22,34.80) scale(0.9593,1)" font-weight="bold" font-size="47.8" fill="#000">D</text>
<text transform="translate(1402.39,78.70) scale(1.0000,1)" font-size="42.95" fill="#000">Acute</text>
<circle cx="1622.3" cy="20.1" r="7.1" fill="#000000" fill-opacity="0.24" stroke="#000000" stroke-width="2.5"/>
<circle cx="1622.3" cy="48.1" r="7.1" fill="#f8920f" fill-opacity="0.24" stroke="#f8920f" stroke-width="2.5"/>
<circle cx="1761.7" cy="20.1" r="7.1" fill="#208210" fill-opacity="0.24" stroke="#208210" stroke-width="2.5"/>
<circle cx="1761.7" cy="51.7" r="7.1" fill="#4f80ff" fill-opacity="0.24" stroke="#4f80ff" stroke-width="2.5"/>
<circle cx="1761.7" cy="83.5" r="7.1" fill="#ea0008" fill-opacity="0.24" stroke="#ea0008" stroke-width="2.5"/>
<text transform="translate(1653.92,28.50) scale(1.0000,1)" font-weight="bold" font-size="27.0" fill="#000">CON</text>
<text transform="translate(1653.23,56.50) scale(1.0000,1)" font-weight="bold" font-size="27.26" fill="#000">FORM</text>
<text transform="translate(1792.36,28.50) scale(1.0000,1)" font-weight="bold" font-size="26.7" fill="#000">FORM + PSI 0.3</text>
<text transform="translate(1792.36,61.00) scale(1.0000,1)" font-weight="bold" font-size="26.8" fill="#000">FORM + PSI 2</text>
<text transform="translate(1792.37,92.50) scale(1.0000,1)" font-weight="bold" font-size="26.56" fill="#000">FORM + PSI 10</text>
<g transform="translate(1428.8,102.3) scale(1.0,1.0)" fill="none" stroke="#000" stroke-width="1.8" stroke-linejoin="round" stroke-linecap="round">
<path d="M0,0.8 C-0.6,7 -1.6,14 -0.25,20.6 L-5.5,44.3 L44.5,50.7 Q47,51 46.6,47.5 Q46.4,44.4 44,43.7 Q25,40.2 13.5,36.4 Q8.8,34.6 9.3,30 Q9.8,25 12.2,21.1 C16.5,15.6 19,8 19.4,1.2"/>
<path d="M-0.25,21.4 Q1.2,21.6 2.4,19.6 Q3.2,19.4 3.9,21.6 Q5,22 5.9,20 Q6.8,19.8 7.6,22.2 Q8.8,22.4 9.7,20.6 Q10.8,20 12.2,21.1" stroke-width="1.5"/>
</g>
<g transform="translate(1383.6,99.7) scale(1.0)" stroke="#000" stroke-linecap="round">
<line x1="74.15" y1="52.3" x2="79.8" y2="60.6" stroke-width="1.1"/>
<polygon points="77.55,63 82.8,58.3 92.2,71.9 88.5,76.6 " fill="#1aa01a" stroke="none"/>
<polygon points="88.5,76.6 92.2,71.9 99.5,81.8 94.3,86.5" fill="#e6e6e6" stroke="none"/>
<polygon points="77.55,63 82.8,58.3 99.5,81.8 94.3,86.5" fill="none" stroke-width="1.4" stroke-linejoin="miter"/>
<line x1="88.0" y1="77.0" x2="92.6" y2="72.1" stroke-width="1.0"/>
<line x1="96.9" y1="84.5" x2="102.6" y2="93" stroke-width="1.3"/>
<line x1="99.3" y1="96.5" x2="106.6" y2="89.4" stroke-width="1.3"/>
</g>
<text transform="translate(1410.62,231.20) scale(1.0000,1)" font-size="23.52" fill="#000">Formalin</text>
<g transform="translate(1439.3,268.9) scale(1.0,1.0)" fill="none" stroke="#000" stroke-width="1.8" stroke-linejoin="round" stroke-linecap="round">
<path d="M0,0.8 C-0.6,7 -1.6,14 -0.25,20.6 L-5.5,44.3 L44.5,50.7 Q47,51 46.6,47.5 Q46.4,44.4 44,43.7 Q25,40.2 13.5,36.4 Q8.8,34.6 9.3,30 Q9.8,25 12.2,21.1 C16.5,15.6 19,8 19.4,1.2"/>
<path d="M-0.25,21.4 Q1.2,21.6 2.4,19.6 Q3.2,19.4 3.9,21.6 Q5,22 5.9,20 Q6.8,19.8 7.6,22.2 Q8.8,22.4 9.7,20.6 Q10.8,20 12.2,21.1" stroke-width="1.5"/>
</g>
<g transform="translate(1456.5,341.5)" stroke="#1414ff" stroke-width="1.8" fill="none" stroke-linecap="butt">
<g transform="rotate(0)"><path d="M0,0 V-19.6 M0,-8.6 L-5.6,-15 M0,-8.6 L5.6,-15 M0,-13.6 L-3.2,-17.4 M0,-13.6 L3.2,-17.4"/></g>
<g transform="rotate(60)"><path d="M0,0 V-19.6 M0,-8.6 L-5.6,-15 M0,-8.6 L5.6,-15 M0,-13.6 L-3.2,-17.4 M0,-13.6 L3.2,-17.4"/></g>
<g transform="rotate(120)"><path d="M0,0 V-19.6 M0,-8.6 L-5.6,-15 M0,-8.6 L5.6,-15 M0,-13.6 L-3.2,-17.4 M0,-13.6 L3.2,-17.4"/></g>
<g transform="rotate(180)"><path d="M0,0 V-19.6 M0,-8.6 L-5.6,-15 M0,-8.6 L5.6,-15 M0,-13.6 L-3.2,-17.4 M0,-13.6 L3.2,-17.4"/></g>
<g transform="rotate(240)"><path d="M0,0 V-19.6 M0,-8.6 L-5.6,-15 M0,-8.6 L5.6,-15 M0,-13.6 L-3.2,-17.4 M0,-13.6 L3.2,-17.4"/></g>
<g transform="rotate(300)"><path d="M0,0 V-19.6 M0,-8.6 L-5.6,-15 M0,-8.6 L5.6,-15 M0,-13.6 L-3.2,-17.4 M0,-13.6 L3.2,-17.4"/></g>
</g>
<text transform="translate(1403.24,384.40) scale(1.0000,1)" font-size="23.16" fill="#000">Cold Plate</text>
<text transform="translate(1537.00,319.37) rotate(-90) scale(1,1.08)" font-weight="bold" font-size="30.32">Paw Lifts</text>
<path d="M1691.4,396.2 V259.5 H1727.6 V396.2" fill="none" stroke="#f8920f" stroke-width="4.0"/>
<path d="M1756.5,396.2 V304.6 H1792.7 V396.2" fill="none" stroke="#208210" stroke-width="4.0"/>
<path d="M1821.4,396.2 V304.7 H1857.6 V396.2" fill="none" stroke="#4f80ff" stroke-width="4.0"/>
<path d="M1886.9,396.2 V367.3 H1923.1 V396.2" fill="none" stroke="#ea0008" stroke-width="4.0"/>
<path d="M1709.5,235.1 V278.9 M1698.5,235.1 h22 M1698.5,278.9 h22" fill="none" stroke="#f8920f" stroke-width="2.4"/>
<path d="M1774.6,281.0 V322.7 M1763.6,281.0 h22 M1763.6,322.7 h22" fill="none" stroke="#208210" stroke-width="2.4"/>
<path d="M1839.5,284.2 V318.9 M1828.5,284.2 h22 M1828.5,318.9 h22" fill="none" stroke="#4f80ff" stroke-width="2.4"/>
<path d="M1905.0,352.4 V376.9 M1894.0,352.4 h22 M1894.0,376.9 h22" fill="none" stroke="#ea0008" stroke-width="2.4"/>
<circle cx="1630.1" cy="396.0" r="6.8" fill="#000000" fill-opacity="0.24" stroke="#000000" stroke-width="2.8"/>
<circle cx="1634.0" cy="389.6" r="6.8" fill="#000000" fill-opacity="0.24" stroke="#000000" stroke-width="2.8"/>
<circle cx="1639.1" cy="389.6" r="6.8" fill="#000000" fill-opacity="0.24" stroke="#000000" stroke-width="2.8"/>
<circle cx="1643.0" cy="388.3" r="6.8" fill="#000000" fill-opacity="0.24" stroke="#000000" stroke-width="2.8"/>
<circle cx="1644.2" cy="396.0" r="6.8" fill="#000000" fill-opacity="0.24" stroke="#000000" stroke-width="2.8"/>
<circle cx="1650.7" cy="394.7" r="6.8" fill="#000000" fill-opacity="0.24" stroke="#000000" stroke-width="2.8"/>
<circle cx="1655.8" cy="392.1" r="6.8" fill="#000000" fill-opacity="0.24" stroke="#000000" stroke-width="2.8"/>
<circle cx="1658.4" cy="396.0" r="6.8" fill="#000000" fill-opacity="0.24" stroke="#000000" stroke-width="2.8"/>
<circle cx="1637.8" cy="396.0" r="6.8" fill="#000000" fill-opacity="0.24" stroke="#000000" stroke-width="2.8"/>
<circle cx="1648.1" cy="390.9" r="6.8" fill="#000000" fill-opacity="0.24" stroke="#000000" stroke-width="2.8"/>
<circle cx="1709.1" cy="162.3" r="6.8" fill="#f8920f" fill-opacity="0.24" stroke="#f8920f" stroke-width="2.8"/>
<circle cx="1722.8" cy="183.1" r="6.8" fill="#f8920f" fill-opacity="0.24" stroke="#f8920f" stroke-width="2.8"/>
<circle cx="1695.7" cy="190.1" r="6.8" fill="#f8920f" fill-opacity="0.24" stroke="#f8920f" stroke-width="2.8"/>
<circle cx="1709.1" cy="194.0" r="6.8" fill="#f8920f" fill-opacity="0.24" stroke="#f8920f" stroke-width="2.8"/>
<circle cx="1709.1" cy="207.6" r="6.8" fill="#f8920f" fill-opacity="0.24" stroke="#f8920f" stroke-width="2.8"/>
<circle cx="1709.1" cy="221.5" r="6.8" fill="#f8920f" fill-opacity="0.24" stroke="#f8920f" stroke-width="2.8"/>
<circle cx="1722.8" cy="270.4" r="6.8" fill="#f8920f" fill-opacity="0.24" stroke="#f8920f" stroke-width="2.8"/>
<circle cx="1709.1" cy="277.6" r="6.8" fill="#f8920f" fill-opacity="0.24" stroke="#f8920f" stroke-width="2.8"/>
<circle cx="1709.1" cy="298.7" r="6.8" fill="#f8920f" fill-opacity="0.24" stroke="#f8920f" stroke-width="2.8"/>
<circle cx="1709.1" cy="322.9" r="6.8" fill="#f8920f" fill-opacity="0.24" stroke="#f8920f" stroke-width="2.8"/>
<circle cx="1709.1" cy="369.0" r="6.8" fill="#f8920f" fill-opacity="0.24" stroke="#f8920f" stroke-width="2.8"/>
<circle cx="1709.1" cy="385.7" r="6.8" fill="#f8920f" fill-opacity="0.24" stroke="#f8920f" stroke-width="2.8"/>
<circle cx="1774.2" cy="190.1" r="6.8" fill="#208210" fill-opacity="0.24" stroke="#208210" stroke-width="2.8"/>
<circle cx="1761.4" cy="211.5" r="6.8" fill="#208210" fill-opacity="0.24" stroke="#208210" stroke-width="2.8"/>
<circle cx="1774.2" cy="221.5" r="6.8" fill="#208210" fill-opacity="0.24" stroke="#208210" stroke-width="2.8"/>
<circle cx="1774.2" cy="249.3" r="6.8" fill="#208210" fill-opacity="0.24" stroke="#208210" stroke-width="2.8"/>
<circle cx="1774.2" cy="263.4" r="6.8" fill="#208210" fill-opacity="0.24" stroke="#208210" stroke-width="2.8"/>
<circle cx="1774.2" cy="304.6" r="6.8" fill="#208210" fill-opacity="0.24" stroke="#208210" stroke-width="2.8"/>
<circle cx="1774.2" cy="318.8" r="6.8" fill="#208210" fill-opacity="0.24" stroke="#208210" stroke-width="2.8"/>
<circle cx="1774.2" cy="334.2" r="6.8" fill="#208210" fill-opacity="0.24" stroke="#208210" stroke-width="2.8"/>
<circle cx="1774.2" cy="364.6" r="6.8" fill="#208210" fill-opacity="0.24" stroke="#208210" stroke-width="2.8"/>
<circle cx="1774.2" cy="379.3" r="6.8" fill="#208210" fill-opacity="0.24" stroke="#208210" stroke-width="2.8"/>
<circle cx="1787.6" cy="385.7" r="6.8" fill="#208210" fill-opacity="0.24" stroke="#208210" stroke-width="2.8"/>
<circle cx="1761.4" cy="392.9" r="6.8" fill="#208210" fill-opacity="0.24" stroke="#208210" stroke-width="2.8"/>
<circle cx="1832.7" cy="207.7" r="6.8" fill="#4f80ff" fill-opacity="0.24" stroke="#4f80ff" stroke-width="2.8"/>
<circle cx="1846.9" cy="204.3" r="6.8" fill="#4f80ff" fill-opacity="0.24" stroke="#4f80ff" stroke-width="2.8"/>
<circle cx="1839.7" cy="277.7" r="6.8" fill="#4f80ff" fill-opacity="0.24" stroke="#4f80ff" stroke-width="2.8"/>
<circle cx="1839.7" cy="291.9" r="6.8" fill="#4f80ff" fill-opacity="0.24" stroke="#4f80ff" stroke-width="2.8"/>
<circle cx="1825.8" cy="302.2" r="6.8" fill="#4f80ff" fill-opacity="0.24" stroke="#4f80ff" stroke-width="2.8"/>
<circle cx="1853.3" cy="305.3" r="6.8" fill="#4f80ff" fill-opacity="0.24" stroke="#4f80ff" stroke-width="2.8"/>
<circle cx="1839.7" cy="312.5" r="6.8" fill="#4f80ff" fill-opacity="0.24" stroke="#4f80ff" stroke-width="2.8"/>
<circle cx="1832.7" cy="337.5" r="6.8" fill="#4f80ff" fill-opacity="0.24" stroke="#4f80ff" stroke-width="2.8"/>
<circle cx="1846.4" cy="333.9" r="6.8" fill="#4f80ff" fill-opacity="0.24" stroke="#4f80ff" stroke-width="2.8"/>
<circle cx="1839.7" cy="351.1" r="6.8" fill="#4f80ff" fill-opacity="0.24" stroke="#4f80ff" stroke-width="2.8"/>
<circle cx="1839.7" cy="393.1" r="6.8" fill="#4f80ff" fill-opacity="0.24" stroke="#4f80ff" stroke-width="2.8"/>
<circle cx="1904.8" cy="270.8" r="6.8" fill="#ea0008" fill-opacity="0.24" stroke="#ea0008" stroke-width="2.8"/>
<circle cx="1907.4" cy="320.2" r="6.8" fill="#ea0008" fill-opacity="0.24" stroke="#ea0008" stroke-width="2.8"/>
<circle cx="1901.7" cy="327.4" r="6.8" fill="#ea0008" fill-opacity="0.24" stroke="#ea0008" stroke-width="2.8"/>
<circle cx="1904.8" cy="337.0" r="6.8" fill="#ea0008" fill-opacity="0.24" stroke="#ea0008" stroke-width="2.8"/>
<circle cx="1904.8" cy="378.2" r="6.8" fill="#ea0008" fill-opacity="0.24" stroke="#ea0008" stroke-width="2.8"/>
<circle cx="1902.8" cy="382.0" r="6.8" fill="#ea0008" fill-opacity="0.24" stroke="#ea0008" stroke-width="2.8"/>
<circle cx="1892.0" cy="396.2" r="6.8" fill="#ea0008" fill-opacity="0.24" stroke="#ea0008" stroke-width="2.8"/>
<circle cx="1901.0" cy="396.2" r="6.8" fill="#ea0008" fill-opacity="0.24" stroke="#ea0008" stroke-width="2.8"/>
<circle cx="1911.3" cy="396.2" r="6.8" fill="#ea0008" fill-opacity="0.24" stroke="#ea0008" stroke-width="2.8"/>
<circle cx="1919.0" cy="393.6" r="6.8" fill="#ea0008" fill-opacity="0.24" stroke="#ea0008" stroke-width="2.8"/>
<circle cx="1897.1" cy="389.8" r="6.8" fill="#ea0008" fill-opacity="0.24" stroke="#ea0008" stroke-width="2.8"/>
<circle cx="1912.6" cy="389.8" r="6.8" fill="#ea0008" fill-opacity="0.24" stroke="#ea0008" stroke-width="2.8"/>
<text x="1804.40" y="159.20" text-anchor="middle" font-size="31.5" fill="#000">NS</text>
<line x1="1774.2" y1="169.5" x2="1841.5" y2="168.3" stroke="#000" stroke-width="3.2" stroke-linecap="round"/>
<text x="1633.4" y="388.1" font-weight="bold" font-size="53">*</text>
<text x="1894.5" y="259.4" font-weight="bold" font-size="53">*</text>
<path d="M1600.0,115.2 V397.6" stroke="#000" stroke-width="2.7" fill="none"/>
<path d="M1588.3,396.2 H1949.8" stroke="#000" stroke-width="2.7" fill="none"/>
<path d="M1587.7,396.2 H1600.0" stroke="#000" stroke-width="2.7" fill="none"/>
<text x="1567.81" y="405.30" font-weight="bold" font-size="26">0</text>
<path d="M1587.7,326.3 H1600.0" stroke="#000" stroke-width="2.7" fill="none"/>
<text x="1553.38" y="335.40" font-weight="bold" font-size="26">20</text>
<path d="M1587.7,256.4 H1600.0" stroke="#000" stroke-width="2.7" fill="none"/>
<text x="1553.38" y="265.50" font-weight="bold" font-size="26">40</text>
<path d="M1587.7,186.5 H1600.0" stroke="#000" stroke-width="2.7" fill="none"/>
<text x="1553.38" y="195.60" font-weight="bold" font-size="26">60</text>
<path d="M1587.7,116.6 H1600.0" stroke="#000" stroke-width="2.7" fill="none"/>
<text x="1553.38" y="125.70" font-weight="bold" font-size="26">80</text>
<path d="M1643.8,396.2 V407.6" stroke="#000" stroke-width="2.4000000000000004" fill="none"/>
<path d="M1709.5,396.2 V407.6" stroke="#000" stroke-width="2.4000000000000004" fill="none"/>
<path d="M1774.6,396.2 V407.6" stroke="#000" stroke-width="2.4000000000000004" fill="none"/>
<path d="M1839.5,396.2 V407.6" stroke="#000" stroke-width="2.4000000000000004" fill="none"/>
<path d="M1905.0,396.2 V407.6" stroke="#000" stroke-width="2.4000000000000004" fill="none"/>
<text transform="translate(60.90,504.70) scale(1.0000,1)" font-size="39.2" fill="#000">Acute</text>
<g transform="translate(0.0,0.0)" fill="none" stroke-linecap="round" stroke-linejoin="round">
<path d="M129.9,552.6 L120.7,568" stroke="#000" stroke-width="7"/>
<path d="M121.2,568.8 Q126.5,576.5 124.7,580 L114.6,598.7 L97.2,612.6" stroke="#000" stroke-width="4"/>
<path d="M120.5,567.4 L107,567.4 L102.5,569.2" stroke="#0a0010" stroke-width="4.4"/>
<path d="M118.6,570.6 L112.4,578.6 L105,584" stroke="#000" stroke-width="3.4"/>
<path d="M91.6,567.9 L105.7,575.5 M101.4,564.3 L95.6,579.5" stroke="#ff0000" stroke-width="2.7" stroke-linecap="butt"/>
<path d="M95.6,582.7 L109.7,589.6 M105,578.4 L99.6,593.6" stroke="#ff0000" stroke-width="2.7" stroke-linecap="butt"/>
</g>
<text transform="translate(85.12,665.00) scale(1.0000,1)" font-size="23.99" fill="#000">SNI</text>
<g transform="translate(92.9,709.3) scale(1.0,1.0)" fill="none" stroke="#000" stroke-width="1.8" stroke-linejoin="round" stroke-linecap="round">
<path d="M0,0.8 C-0.6,7 -1.6,14 -0.25,20.6 L-5.5,44.3 L44.5,50.7 Q47,51 46.6,47.5 Q46.4,44.4 44,43.7 Q25,40.2 13.5,36.4 Q8.8,34.6 9.3,30 Q9.8,25 12.2,21.1 C16.5,15.6 19,8 19.4,1.2"/>
<path d="M-0.25,21.4 Q1.2,21.6 2.4,19.6 Q3.2,19.4 3.9,21.6 Q5,22 5.9,20 Q6.8,19.8 7.6,22.2 Q8.8,22.4 9.7,20.6 Q10.8,20 12.2,21.1" stroke-width="1.5"/>
</g>
<g transform="translate(110.4,781.7)" stroke="#1414ff" stroke-width="1.8" fill="none" stroke-linecap="butt">
<g transform="rotate(0)"><path d="M0,0 V-19.6 M0,-8.6 L-5.6,-15 M0,-8.6 L5.6,-15 M0,-13.6 L-3.2,-17.4 M0,-13.6 L3.2,-17.4"/></g>
<g transform="rotate(60)"><path d="M0,0 V-19.6 M0,-8.6 L-5.6,-15 M0,-8.6 L5.6,-15 M0,-13.6 L-3.2,-17.4 M0,-13.6 L3.2,-17.4"/></g>
<g transform="rotate(120)"><path d="M0,0 V-19.6 M0,-8.6 L-5.6,-15 M0,-8.6 L5.6,-15 M0,-13.6 L-3.2,-17.4 M0,-13.6 L3.2,-17.4"/></g>
<g transform="rotate(180)"><path d="M0,0 V-19.6 M0,-8.6 L-5.6,-15 M0,-8.6 L5.6,-15 M0,-13.6 L-3.2,-17.4 M0,-13.6 L3.2,-17.4"/></g>
<g transform="rotate(240)"><path d="M0,0 V-19.6 M0,-8.6 L-5.6,-15 M0,-8.6 L5.6,-15 M0,-13.6 L-3.2,-17.4 M0,-13.6 L3.2,-17.4"/></g>
<g transform="rotate(300)"><path d="M0,0 V-19.6 M0,-8.6 L-5.6,-15 M0,-8.6 L5.6,-15 M0,-13.6 L-3.2,-17.4 M0,-13.6 L3.2,-17.4"/></g>
</g>
<text transform="translate(56.73,824.90) scale(1.0000,1)" font-size="23.36" fill="#000">Cold Plate</text>
<text transform="translate(36.85,922.50) scale(1.0000,1)" font-size="42.94" fill="#000">Chronic</text>
<g transform="translate(-2.4,415.8)" fill="none" stroke-linecap="round" stroke-linejoin="round">
<path d="M129.9,552.6 L120.7,568" stroke="#000" stroke-width="7"/>
<path d="M121.2,568.8 Q126.5,576.5 124.7,580 L114.6,598.7 L97.2,612.6" stroke="#000" stroke-width="4"/>
<path d="M120.5,567.4 L107,567.4 L102.5,569.2" stroke="#0a0010" stroke-width="4.4"/>
<path d="M118.6,570.6 L112.4,578.6 L105,584" stroke="#000" stroke-width="3.4"/>
<path d="M91.6,567.9 L105.7,575.5 M101.4,564.3 L95.6,579.5" stroke="#ff0000" stroke-width="2.7" stroke-linecap="butt"/>
<path d="M95.6,582.7 L109.7,589.6 M105,578.4 L99.6,593.6" stroke="#ff0000" stroke-width="2.7" stroke-linecap="butt"/>
</g>
<text transform="translate(82.91,1081.20) scale(1.0000,1)" font-size="24.18" fill="#000">SNI</text>
<g transform="translate(90.4,1124.4) scale(1.0,1.0)" fill="none" stroke="#000" stroke-width="1.8" stroke-linejoin="round" stroke-linecap="round">
<path d="M0,0.8 C-0.6,7 -1.6,14 -0.25,20.6 L-5.5,44.3 L44.5,50.7 Q47,51 46.6,47.5 Q46.4,44.4 44,43.7 Q25,40.2 13.5,36.4 Q8.8,34.6 9.3,30 Q9.8,25 12.2,21.1 C16.5,15.6 19,8 19.4,1.2"/>
<path d="M-0.25,21.4 Q1.2,21.6 2.4,19.6 Q3.2,19.4 3.9,21.6 Q5,22 5.9,20 Q6.8,19.8 7.6,22.2 Q8.8,22.4 9.7,20.6 Q10.8,20 12.2,21.1" stroke-width="1.5"/>
</g>
<g transform="translate(108.5,1197.2)" stroke="#1414ff" stroke-width="1.8" fill="none" stroke-linecap="butt">
<g transform="rotate(0)"><path d="M0,0 V-19.6 M0,-8.6 L-5.6,-15 M0,-8.6 L5.6,-15 M0,-13.6 L-3.2,-17.4 M0,-13.6 L3.2,-17.4"/></g>
<g transform="rotate(60)"><path d="M0,0 V-19.6 M0,-8.6 L-5.6,-15 M0,-8.6 L5.6,-15 M0,-13.6 L-3.2,-17.4 M0,-13.6 L3.2,-17.4"/></g>
<g transform="rotate(120)"><path d="M0,0 V-19.6 M0,-8.6 L-5.6,-15 M0,-8.6 L5.6,-15 M0,-13.6 L-3.2,-17.4 M0,-13.6 L3.2,-17.4"/></g>
<g transform="rotate(180)"><path d="M0,0 V-19.6 M0,-8.6 L-5.6,-15 M0,-8.6 L5.6,-15 M0,-13.6 L-3.2,-17.4 M0,-13.6 L3.2,-17.4"/></g>
<g transform="rotate(240)"><path d="M0,0 V-19.6 M0,-8.6 L-5.6,-15 M0,-8.6 L5.6,-15 M0,-13.6 L-3.2,-17.4 M0,-13.6 L3.2,-17.4"/></g>
<g transform="rotate(300)"><path d="M0,0 V-19.6 M0,-8.6 L-5.6,-15 M0,-8.6 L5.6,-15 M0,-13.6 L-3.2,-17.4 M0,-13.6 L3.2,-17.4"/></g>
</g>
<text transform="translate(53.72,1240.40) scale(1.0000,1)" font-size="23.52" fill="#000">Cold Plate</text>
<circle cx="1794.2" cy="492.6" r="7.1" fill="#000000" fill-opacity="0.24" stroke="#000000" stroke-width="2.5"/>
<circle cx="1795.3" cy="522.4" r="7.1" fill="#f8920f" fill-opacity="0.24" stroke="#f8920f" stroke-width="2.5"/>
<circle cx="1794.9" cy="549.7" r="7.1" fill="#208210" fill-opacity="0.24" stroke="#208210" stroke-width="2.5"/>
<circle cx="1796.7" cy="581.9" r="7.1" fill="#4f80ff" fill-opacity="0.24" stroke="#4f80ff" stroke-width="2.5"/>
<circle cx="1796.7" cy="613.6" r="7.1" fill="#ea0008" fill-opacity="0.24" stroke="#ea0008" stroke-width="2.5"/>
<text transform="translate(1825.61,502.60) scale(1.0000,1)" font-weight="bold" font-size="27.19" fill="#000">CON</text>
<text transform="translate(1827.28,531.70) scale(1.0000,1)" font-weight="bold" font-size="27.45" fill="#000">SNI</text>
<text transform="translate(1827.31,559.10) scale(1.0000,1)" font-weight="bold" font-size="26.3" fill="#000">SNI + PSI 0.3</text>
<text transform="translate(1828.70,591.20) scale(1.0000,1)" font-weight="bold" font-size="26.53" fill="#000">SNI + PSI 2</text>
<text transform="translate(1828.70,623.00) scale(1.0000,1)" font-weight="bold" font-size="26.52" fill="#000">SNI + PSI 10</text>
<circle cx="1796.0" cy="910.9" r="7.1" fill="#000000" fill-opacity="0.24" stroke="#000000" stroke-width="2.5"/>
<circle cx="1795.3" cy="938.3" r="7.1" fill="#f8920f" fill-opacity="0.24" stroke="#f8920f" stroke-width="2.5"/>
<circle cx="1794.9" cy="965.6" r="7.1" fill="#208210" fill-opacity="0.24" stroke="#208210" stroke-width="2.5"/>
<circle cx="1796.7" cy="998.0" r="7.1" fill="#4f80ff" fill-opacity="0.24" stroke="#4f80ff" stroke-width="2.5"/>
<circle cx="1796.7" cy="1029.5" r="7.1" fill="#ea0008" fill-opacity="0.24" stroke="#ea0008" stroke-width="2.5"/>
<text transform="translate(1827.41,920.60) scale(1.0000,1)" font-weight="bold" font-size="27.28" fill="#000">CON</text>
<text transform="translate(1827.28,947.60) scale(1.0000,1)" font-weight="bold" font-size="27.45" fill="#000">SNI</text>
<text transform="translate(1827.31,975.00) scale(1.0000,1)" font-weight="bold" font-size="26.3" fill="#000">SNI + PSI 0.3</text>
<text transform="translate(1828.70,1007.40) scale(1.0000,1)" font-weight="bold" font-size="26.53" fill="#000">SNI + PSI 2</text>
<text transform="translate(1828.70,1039.30) scale(1.0000,1)" font-weight="bold" font-size="26.52" fill="#000">SNI + PSI 10</text>
<text transform="translate(248.37,535.80) scale(0.9442,1)" font-weight="bold" font-size="47.8" fill="#000">E</text>
<text transform="translate(523.43,511.80) scale(1.0000,1)" font-size="43.6" fill="#000">1h</text>
<text transform="translate(276.20,753.28) rotate(-90) scale(1,1.08)" font-weight="bold" font-size="30.39">Paw Lifts</text>
<path d="M365.3,826.3 V788.3 H401.7 V826.3" fill="none" stroke="#000000" stroke-width="4.0"/>
<path d="M430.2,826.3 V699.1 H466.6 V826.3" fill="none" stroke="#f8920f" stroke-width="4.0"/>
<path d="M495.2,826.3 V748.6 H531.6 V826.3" fill="none" stroke="#208210" stroke-width="4.0"/>
<path d="M560.0,826.3 V731.9 H596.4 V826.3" fill="none" stroke="#4f80ff" stroke-width="4.0"/>
<path d="M625.0,826.3 V747.1 H661.4 V826.3" fill="none" stroke="#ea0008" stroke-width="4.0"/>
<path d="M383.5,775.2 V795.7 M372.5,775.2 h22 M372.5,795.7 h22" fill="none" stroke="#000000" stroke-width="2.4"/>
<path d="M448.4,680.4 V713.1 M437.4,680.4 h22 M437.4,713.1 h22" fill="none" stroke="#f8920f" stroke-width="2.4"/>
<path d="M513.4,731.5 V760.5 M502.4,731.5 h22 M502.4,760.5 h22" fill="none" stroke="#208210" stroke-width="2.4"/>
<path d="M578.2,711.7 V745.4 M567.2,711.7 h22 M567.2,745.4 h22" fill="none" stroke="#4f80ff" stroke-width="2.4"/>
<path d="M643.2,730.6 V758.2 M632.2,730.6 h22 M632.2,758.2 h22" fill="none" stroke="#ea0008" stroke-width="2.4"/>
<circle cx="383.3" cy="714.7" r="6.8" fill="#000000" fill-opacity="0.24" stroke="#000000" stroke-width="2.8"/>
<circle cx="386.3" cy="742.9" r="6.8" fill="#000000" fill-opacity="0.24" stroke="#000000" stroke-width="2.8"/>
<circle cx="379.6" cy="749.6" r="6.8" fill="#000000" fill-opacity="0.24" stroke="#000000" stroke-width="2.8"/>
<circle cx="376.2" cy="777.1" r="6.8" fill="#000000" fill-opacity="0.24" stroke="#000000" stroke-width="2.8"/>
<circle cx="383.3" cy="784.2" r="6.8" fill="#000000" fill-opacity="0.24" stroke="#000000" stroke-width="2.8"/>
<circle cx="389.3" cy="784.2" r="6.8" fill="#000000" fill-opacity="0.24" stroke="#000000" stroke-width="2.8"/>
<circle cx="389.3" cy="798.2" r="6.8" fill="#000000" fill-opacity="0.24" stroke="#000000" stroke-width="2.8"/>
<circle cx="376.2" cy="805.3" r="6.8" fill="#000000" fill-opacity="0.24" stroke="#000000" stroke-width="2.8"/>
<circle cx="389.3" cy="812.3" r="6.8" fill="#000000" fill-opacity="0.24" stroke="#000000" stroke-width="2.8"/>
<circle cx="370.2" cy="819.4" r="6.8" fill="#000000" fill-opacity="0.24" stroke="#000000" stroke-width="2.8"/>
<circle cx="383.3" cy="819.4" r="6.8" fill="#000000" fill-opacity="0.24" stroke="#000000" stroke-width="2.8"/>
<circle cx="397.3" cy="819.4" r="6.8" fill="#000000" fill-opacity="0.24" stroke="#000000" stroke-width="2.8"/>
<circle cx="435.0" cy="623.2" r="6.8" fill="#f8920f" fill-opacity="0.24" stroke="#f8920f" stroke-width="2.8"/>
<circle cx="461.5" cy="616.2" r="6.8" fill="#f8920f" fill-opacity="0.24" stroke="#f8920f" stroke-width="2.8"/>
<circle cx="448.2" cy="644.7" r="6.8" fill="#f8920f" fill-opacity="0.24" stroke="#f8920f" stroke-width="2.8"/>
<circle cx="435.0" cy="665.5" r="6.8" fill="#f8920f" fill-opacity="0.24" stroke="#f8920f" stroke-width="2.8"/>
<circle cx="461.5" cy="665.5" r="6.8" fill="#f8920f" fill-opacity="0.24" stroke="#f8920f" stroke-width="2.8"/>
<circle cx="448.2" cy="692.6" r="6.8" fill="#f8920f" fill-opacity="0.24" stroke="#f8920f" stroke-width="2.8"/>
<circle cx="461.5" cy="707.3" r="6.8" fill="#f8920f" fill-opacity="0.24" stroke="#f8920f" stroke-width="2.8"/>
<circle cx="435.0" cy="714.7" r="6.8" fill="#f8920f" fill-opacity="0.24" stroke="#f8920f" stroke-width="2.8"/>
<circle cx="461.5" cy="728.4" r="6.8" fill="#f8920f" fill-opacity="0.24" stroke="#f8920f" stroke-width="2.8"/>
<circle cx="435.0" cy="735.3" r="6.8" fill="#f8920f" fill-opacity="0.24" stroke="#f8920f" stroke-width="2.8"/>
<circle cx="448.2" cy="763.4" r="6.8" fill="#f8920f" fill-opacity="0.24" stroke="#f8920f" stroke-width="2.8"/>
<circle cx="448.2" cy="798.2" r="6.8" fill="#f8920f" fill-opacity="0.24" stroke="#f8920f" stroke-width="2.8"/>
<circle cx="513.0" cy="651.4" r="6.8" fill="#208210" fill-opacity="0.24" stroke="#208210" stroke-width="2.8"/>
<circle cx="500.0" cy="693.6" r="6.8" fill="#208210" fill-opacity="0.24" stroke="#208210" stroke-width="2.8"/>
<circle cx="526.7" cy="693.6" r="6.8" fill="#208210" fill-opacity="0.24" stroke="#208210" stroke-width="2.8"/>
<circle cx="508.6" cy="700.3" r="6.8" fill="#208210" fill-opacity="0.24" stroke="#208210" stroke-width="2.8"/>
<circle cx="508.6" cy="735.3" r="6.8" fill="#208210" fill-opacity="0.24" stroke="#208210" stroke-width="2.8"/>
<circle cx="517.1" cy="742.5" r="6.8" fill="#208210" fill-opacity="0.24" stroke="#208210" stroke-width="2.8"/>
<circle cx="513.0" cy="770.1" r="6.8" fill="#208210" fill-opacity="0.24" stroke="#208210" stroke-width="2.8"/>
<circle cx="518.1" cy="784.2" r="6.8" fill="#208210" fill-opacity="0.24" stroke="#208210" stroke-width="2.8"/>
<circle cx="527.1" cy="784.2" r="6.8" fill="#208210" fill-opacity="0.24" stroke="#208210" stroke-width="2.8"/>
<circle cx="500.0" cy="791.2" r="6.8" fill="#208210" fill-opacity="0.24" stroke="#208210" stroke-width="2.8"/>
<circle cx="517.7" cy="798.2" r="6.8" fill="#208210" fill-opacity="0.24" stroke="#208210" stroke-width="2.8"/>
<circle cx="508.6" cy="805.3" r="6.8" fill="#208210" fill-opacity="0.24" stroke="#208210" stroke-width="2.8"/>
<circle cx="577.9" cy="609.2" r="6.8" fill="#4f80ff" fill-opacity="0.24" stroke="#4f80ff" stroke-width="2.8"/>
<circle cx="577.9" cy="658.9" r="6.8" fill="#4f80ff" fill-opacity="0.24" stroke="#4f80ff" stroke-width="2.8"/>
<circle cx="577.9" cy="672.7" r="6.8" fill="#4f80ff" fill-opacity="0.24" stroke="#4f80ff" stroke-width="2.8"/>
<circle cx="564.7" cy="706.9" r="6.8" fill="#4f80ff" fill-opacity="0.24" stroke="#4f80ff" stroke-width="2.8"/>
<circle cx="591.7" cy="706.9" r="6.8" fill="#4f80ff" fill-opacity="0.24" stroke="#4f80ff" stroke-width="2.8"/>
<circle cx="577.9" cy="735.9" r="6.8" fill="#4f80ff" fill-opacity="0.24" stroke="#4f80ff" stroke-width="2.8"/>
<circle cx="564.7" cy="749.4" r="6.8" fill="#4f80ff" fill-opacity="0.24" stroke="#4f80ff" stroke-width="2.8"/>
<circle cx="591.7" cy="749.4" r="6.8" fill="#4f80ff" fill-opacity="0.24" stroke="#4f80ff" stroke-width="2.8"/>
<circle cx="591.7" cy="770.4" r="6.8" fill="#4f80ff" fill-opacity="0.24" stroke="#4f80ff" stroke-width="2.8"/>
<circle cx="564.7" cy="777.2" r="6.8" fill="#4f80ff" fill-opacity="0.24" stroke="#4f80ff" stroke-width="2.8"/>
<circle cx="577.9" cy="791.6" r="6.8" fill="#4f80ff" fill-opacity="0.24" stroke="#4f80ff" stroke-width="2.8"/>
<circle cx="577.9" cy="819.1" r="6.8" fill="#4f80ff" fill-opacity="0.24" stroke="#4f80ff" stroke-width="2.8"/>
<circle cx="643.5" cy="665.5" r="6.8" fill="#ea0008" fill-opacity="0.24" stroke="#ea0008" stroke-width="2.8"/>
<circle cx="629.8" cy="693.2" r="6.8" fill="#ea0008" fill-opacity="0.24" stroke="#ea0008" stroke-width="2.8"/>
<circle cx="656.8" cy="699.7" r="6.8" fill="#ea0008" fill-opacity="0.24" stroke="#ea0008" stroke-width="2.8"/>
<circle cx="643.1" cy="706.9" r="6.8" fill="#ea0008" fill-opacity="0.24" stroke="#ea0008" stroke-width="2.8"/>
<circle cx="636.3" cy="728.7" r="6.8" fill="#ea0008" fill-opacity="0.24" stroke="#ea0008" stroke-width="2.8"/>
<circle cx="649.6" cy="728.7" r="6.8" fill="#ea0008" fill-opacity="0.24" stroke="#ea0008" stroke-width="2.8"/>
<circle cx="649.6" cy="749.4" r="6.8" fill="#ea0008" fill-opacity="0.24" stroke="#ea0008" stroke-width="2.8"/>
<circle cx="636.3" cy="755.9" r="6.8" fill="#ea0008" fill-opacity="0.24" stroke="#ea0008" stroke-width="2.8"/>
<circle cx="629.8" cy="791.6" r="6.8" fill="#ea0008" fill-opacity="0.24" stroke="#ea0008" stroke-width="2.8"/>
<circle cx="643.1" cy="798.1" r="6.8" fill="#ea0008" fill-opacity="0.24" stroke="#ea0008" stroke-width="2.8"/>
<circle cx="656.8" cy="798.1" r="6.8" fill="#ea0008" fill-opacity="0.24" stroke="#ea0008" stroke-width="2.8"/>
<circle cx="643.1" cy="812.1" r="6.8" fill="#ea0008" fill-opacity="0.24" stroke="#ea0008" stroke-width="2.8"/>
<path d="M339.5,545.0 V827.6" stroke="#000" stroke-width="2.6" fill="none"/>
<path d="M327.2,826.3 H688.0" stroke="#000" stroke-width="2.6" fill="none"/>
<path d="M326.2,826.3 H339.5" stroke="#000" stroke-width="2.6" fill="none"/>
<text x="308.00" y="835.61" font-weight="bold" font-size="26.6">0</text>
<path d="M326.2,756.3 H339.5" stroke="#000" stroke-width="2.6" fill="none"/>
<text x="293.24" y="765.61" font-weight="bold" font-size="26.6">10</text>
<path d="M326.2,686.3 H339.5" stroke="#000" stroke-width="2.6" fill="none"/>
<text x="293.24" y="695.61" font-weight="bold" font-size="26.6">20</text>
<path d="M326.2,616.3 H339.5" stroke="#000" stroke-width="2.6" fill="none"/>
<text x="293.24" y="625.61" font-weight="bold" font-size="26.6">30</text>
<path d="M326.2,546.3 H339.5" stroke="#000" stroke-width="2.6" fill="none"/>
<text x="293.24" y="555.61" font-weight="bold" font-size="26.6">40</text>
<path d="M383.5,826.3 V837.6" stroke="#000" stroke-width="2.3000000000000003" fill="none"/>
<path d="M448.4,826.3 V837.6" stroke="#000" stroke-width="2.3000000000000003" fill="none"/>
<path d="M513.4,826.3 V837.6" stroke="#000" stroke-width="2.3000000000000003" fill="none"/>
<path d="M578.2,826.3 V837.6" stroke="#000" stroke-width="2.3000000000000003" fill="none"/>
<path d="M643.2,826.3 V837.6" stroke="#000" stroke-width="2.3000000000000003" fill="none"/>
<text x="576.50" y="578.80" text-anchor="middle" font-size="31.5" fill="#000">NS</text>
<line x1="511.4" y1="589.8" x2="639.6" y2="587.6" stroke="#000" stroke-width="3.2" stroke-linecap="round"/>
<text x="373.5" y="697.1" font-weight="bold" font-size="53">*</text>
<text transform="translate(788.77,535.80) scale(0.9107,1)" font-weight="bold" font-size="47.8" fill="#000">F</text>
<text transform="translate(1064.41,511.80) scale(1.0000,1)" font-size="43.6" fill="#000">4h</text>
<text transform="translate(821.20,753.28) rotate(-90) scale(1,1.08)" font-weight="bold" font-size="30.39">Paw Lifts</text>
<path d="M910.2,826.3 V810.4 H946.6 V826.3" fill="none" stroke="#000000" stroke-width="4.0"/>
<path d="M975.2,826.3 V751.0 H1011.6 V826.3" fill="none" stroke="#f8920f" stroke-width="4.0"/>
<path d="M1040.5,826.3 V764.0 H1076.9 V826.3" fill="none" stroke="#208210" stroke-width="4.0"/>
<path d="M1106.2,826.3 V741.0 H1142.6 V826.3" fill="none" stroke="#4f80ff" stroke-width="4.0"/>
<path d="M1171.2,826.3 V748.3 H1207.6 V826.3" fill="none" stroke="#ea0008" stroke-width="4.0"/>
<path d="M928.4,803.0 V813.0 M917.4,803.0 h22 M917.4,813.0 h22" fill="none" stroke="#000000" stroke-width="2.4"/>
<path d="M993.4,729.4 V768.0 M982.4,729.4 h22 M982.4,768.0 h22" fill="none" stroke="#f8920f" stroke-width="2.4"/>
<path d="M1058.7,747.5 V775.8 M1047.7,747.5 h22 M1047.7,775.8 h22" fill="none" stroke="#208210" stroke-width="2.4"/>
<path d="M1124.4,720.5 V754.7 M1113.4,720.5 h22 M1113.4,754.7 h22" fill="none" stroke="#4f80ff" stroke-width="2.4"/>
<path d="M1189.4,727.7 V761.2 M1178.4,727.7 h22 M1178.4,761.2 h22" fill="none" stroke="#ea0008" stroke-width="2.4"/>
<circle cx="928.3" cy="763.4" r="6.8" fill="#000000" fill-opacity="0.24" stroke="#000000" stroke-width="2.8"/>
<circle cx="930.3" cy="798.2" r="6.8" fill="#000000" fill-opacity="0.24" stroke="#000000" stroke-width="2.8"/>
<circle cx="935.3" cy="798.2" r="6.8" fill="#000000" fill-opacity="0.24" stroke="#000000" stroke-width="2.8"/>
<circle cx="922.2" cy="805.3" r="6.8" fill="#000000" fill-opacity="0.24" stroke="#000000" stroke-width="2.8"/>
<circle cx="928.3" cy="806.3" r="6.8" fill="#000000" fill-opacity="0.24" stroke="#000000" stroke-width="2.8"/>
<circle cx="935.3" cy="806.3" r="6.8" fill="#000000" fill-opacity="0.24" stroke="#000000" stroke-width="2.8"/>
<circle cx="915.2" cy="819.4" r="6.8" fill="#000000" fill-opacity="0.24" stroke="#000000" stroke-width="2.8"/>
<circle cx="923.2" cy="819.4" r="6.8" fill="#000000" fill-opacity="0.24" stroke="#000000" stroke-width="2.8"/>
<circle cx="932.3" cy="819.4" r="6.8" fill="#000000" fill-opacity="0.24" stroke="#000000" stroke-width="2.8"/>
<circle cx="942.3" cy="819.4" r="6.8" fill="#000000" fill-opacity="0.24" stroke="#000000" stroke-width="2.8"/>
<circle cx="918.2" cy="812.3" r="6.8" fill="#000000" fill-opacity="0.24" stroke="#000000" stroke-width="2.8"/>
<circle cx="939.3" cy="812.3" r="6.8" fill="#000000" fill-opacity="0.24" stroke="#000000" stroke-width="2.8"/>
<circle cx="993.7" cy="602.5" r="6.8" fill="#f8920f" fill-opacity="0.24" stroke="#f8920f" stroke-width="2.8"/>
<circle cx="993.7" cy="651.8" r="6.8" fill="#f8920f" fill-opacity="0.24" stroke="#f8920f" stroke-width="2.8"/>
<circle cx="993.7" cy="707.3" r="6.8" fill="#f8920f" fill-opacity="0.24" stroke="#f8920f" stroke-width="2.8"/>
<circle cx="993.7" cy="763.0" r="6.8" fill="#f8920f" fill-opacity="0.24" stroke="#f8920f" stroke-width="2.8"/>
<circle cx="1000.7" cy="763.4" r="6.8" fill="#f8920f" fill-opacity="0.24" stroke="#f8920f" stroke-width="2.8"/>
<circle cx="1007.1" cy="763.4" r="6.8" fill="#f8920f" fill-opacity="0.24" stroke="#f8920f" stroke-width="2.8"/>
<circle cx="987.0" cy="770.5" r="6.8" fill="#f8920f" fill-opacity="0.24" stroke="#f8920f" stroke-width="2.8"/>
<circle cx="993.7" cy="777.1" r="6.8" fill="#f8920f" fill-opacity="0.24" stroke="#f8920f" stroke-width="2.8"/>
<circle cx="987.0" cy="784.2" r="6.8" fill="#f8920f" fill-opacity="0.24" stroke="#f8920f" stroke-width="2.8"/>
<circle cx="1000.1" cy="784.2" r="6.8" fill="#f8920f" fill-opacity="0.24" stroke="#f8920f" stroke-width="2.8"/>
<circle cx="996.7" cy="798.2" r="6.8" fill="#f8920f" fill-opacity="0.24" stroke="#f8920f" stroke-width="2.8"/>
<circle cx="989.6" cy="805.3" r="6.8" fill="#f8920f" fill-opacity="0.24" stroke="#f8920f" stroke-width="2.8"/>
<circle cx="1055.0" cy="672.5" r="6.8" fill="#208210" fill-opacity="0.24" stroke="#208210" stroke-width="2.8"/>
<circle cx="1063.7" cy="672.5" r="6.8" fill="#208210" fill-opacity="0.24" stroke="#208210" stroke-width="2.8"/>
<circle cx="1059.0" cy="735.3" r="6.8" fill="#208210" fill-opacity="0.24" stroke="#208210" stroke-width="2.8"/>
<circle cx="1062.1" cy="756.6" r="6.8" fill="#208210" fill-opacity="0.24" stroke="#208210" stroke-width="2.8"/>
<circle cx="1073.1" cy="763.0" r="6.8" fill="#208210" fill-opacity="0.24" stroke="#208210" stroke-width="2.8"/>
<circle cx="1055.0" cy="770.5" r="6.8" fill="#208210" fill-opacity="0.24" stroke="#208210" stroke-width="2.8"/>
<circle cx="1064.1" cy="770.5" r="6.8" fill="#208210" fill-opacity="0.24" stroke="#208210" stroke-width="2.8"/>
<circle cx="1046.0" cy="791.2" r="6.8" fill="#208210" fill-opacity="0.24" stroke="#208210" stroke-width="2.8"/>
<circle cx="1055.0" cy="791.2" r="6.8" fill="#208210" fill-opacity="0.24" stroke="#208210" stroke-width="2.8"/>
<circle cx="1073.1" cy="791.2" r="6.8" fill="#208210" fill-opacity="0.24" stroke="#208210" stroke-width="2.8"/>
<circle cx="1063.7" cy="798.2" r="6.8" fill="#208210" fill-opacity="0.24" stroke="#208210" stroke-width="2.8"/>
<circle cx="1059.0" cy="819.4" r="6.8" fill="#208210" fill-opacity="0.24" stroke="#208210" stroke-width="2.8"/>
<circle cx="1124.1" cy="622.8" r="6.8" fill="#4f80ff" fill-opacity="0.24" stroke="#4f80ff" stroke-width="2.8"/>
<circle cx="1137.9" cy="665.5" r="6.8" fill="#4f80ff" fill-opacity="0.24" stroke="#4f80ff" stroke-width="2.8"/>
<circle cx="1124.1" cy="672.2" r="6.8" fill="#4f80ff" fill-opacity="0.24" stroke="#4f80ff" stroke-width="2.8"/>
<circle cx="1137.9" cy="721.4" r="6.8" fill="#4f80ff" fill-opacity="0.24" stroke="#4f80ff" stroke-width="2.8"/>
<circle cx="1110.1" cy="728.2" r="6.8" fill="#4f80ff" fill-opacity="0.24" stroke="#4f80ff" stroke-width="2.8"/>
<circle cx="1124.1" cy="728.2" r="6.8" fill="#4f80ff" fill-opacity="0.24" stroke="#4f80ff" stroke-width="2.8"/>
<circle cx="1117.4" cy="763.2" r="6.8" fill="#4f80ff" fill-opacity="0.24" stroke="#4f80ff" stroke-width="2.8"/>
<circle cx="1131.1" cy="763.2" r="6.8" fill="#4f80ff" fill-opacity="0.24" stroke="#4f80ff" stroke-width="2.8"/>
<circle cx="1124.1" cy="777.2" r="6.8" fill="#4f80ff" fill-opacity="0.24" stroke="#4f80ff" stroke-width="2.8"/>
<circle cx="1137.9" cy="790.9" r="6.8" fill="#4f80ff" fill-opacity="0.24" stroke="#4f80ff" stroke-width="2.8"/>
<circle cx="1124.1" cy="798.1" r="6.8" fill="#4f80ff" fill-opacity="0.24" stroke="#4f80ff" stroke-width="2.8"/>
<circle cx="1124.1" cy="819.1" r="6.8" fill="#4f80ff" fill-opacity="0.24" stroke="#4f80ff" stroke-width="2.8"/>
<circle cx="1189.3" cy="644.2" r="6.8" fill="#ea0008" fill-opacity="0.24" stroke="#ea0008" stroke-width="2.8"/>
<circle cx="1189.3" cy="686.0" r="6.8" fill="#ea0008" fill-opacity="0.24" stroke="#ea0008" stroke-width="2.8"/>
<circle cx="1184.4" cy="699.7" r="6.8" fill="#ea0008" fill-opacity="0.24" stroke="#ea0008" stroke-width="2.8"/>
<circle cx="1175.3" cy="706.9" r="6.8" fill="#ea0008" fill-opacity="0.24" stroke="#ea0008" stroke-width="2.8"/>
<circle cx="1194.1" cy="706.9" r="6.8" fill="#ea0008" fill-opacity="0.24" stroke="#ea0008" stroke-width="2.8"/>
<circle cx="1184.4" cy="714.2" r="6.8" fill="#ea0008" fill-opacity="0.24" stroke="#ea0008" stroke-width="2.8"/>
<circle cx="1189.3" cy="770.4" r="6.8" fill="#ea0008" fill-opacity="0.24" stroke="#ea0008" stroke-width="2.8"/>
<circle cx="1184.4" cy="784.1" r="6.8" fill="#ea0008" fill-opacity="0.24" stroke="#ea0008" stroke-width="2.8"/>
<circle cx="1194.1" cy="784.1" r="6.8" fill="#ea0008" fill-opacity="0.24" stroke="#ea0008" stroke-width="2.8"/>
<circle cx="1175.3" cy="805.4" r="6.8" fill="#ea0008" fill-opacity="0.24" stroke="#ea0008" stroke-width="2.8"/>
<circle cx="1194.1" cy="812.1" r="6.8" fill="#ea0008" fill-opacity="0.24" stroke="#ea0008" stroke-width="2.8"/>
<circle cx="1184.4" cy="819.1" r="6.8" fill="#ea0008" fill-opacity="0.24" stroke="#ea0008" stroke-width="2.8"/>
<path d="M884.9,545.0 V827.6" stroke="#000" stroke-width="2.6" fill="none"/>
<path d="M872.7,826.3 H1234.2" stroke="#000" stroke-width="2.6" fill="none"/>
<path d="M871.6,826.3 H884.9" stroke="#000" stroke-width="2.6" fill="none"/>
<text x="853.50" y="835.61" font-weight="bold" font-size="26.6">0</text>
<path d="M871.6,756.3 H884.9" stroke="#000" stroke-width="2.6" fill="none"/>
<text x="838.74" y="765.61" font-weight="bold" font-size="26.6">10</text>
<path d="M871.6,686.3 H884.9" stroke="#000" stroke-width="2.6" fill="none"/>
<text x="838.74" y="695.61" font-weight="bold" font-size="26.6">20</text>
<path d="M871.6,616.3 H884.9" stroke="#000" stroke-width="2.6" fill="none"/>
<text x="838.74" y="625.61" font-weight="bold" font-size="26.6">30</text>
<path d="M871.6,546.3 H884.9" stroke="#000" stroke-width="2.6" fill="none"/>
<text x="838.74" y="555.61" font-weight="bold" font-size="26.6">40</text>
<path d="M928.4,826.3 V837.6" stroke="#000" stroke-width="2.3000000000000003" fill="none"/>
<path d="M993.4,826.3 V837.6" stroke="#000" stroke-width="2.3000000000000003" fill="none"/>
<path d="M1058.7,826.3 V837.6" stroke="#000" stroke-width="2.3000000000000003" fill="none"/>
<path d="M1124.4,826.3 V837.6" stroke="#000" stroke-width="2.3000000000000003" fill="none"/>
<path d="M1189.4,826.3 V837.6" stroke="#000" stroke-width="2.3000000000000003" fill="none"/>
<text x="1122.30" y="576.70" text-anchor="middle" font-size="31.5" fill="#000">NS</text>
<line x1="1056.6" y1="588.3" x2="1184.6" y2="585.8" stroke="#000" stroke-width="3.2" stroke-linecap="round"/>
<text x="918.9" y="744.5" font-weight="bold" font-size="53">*</text>
<text transform="translate(1340.14,535.80) scale(0.9732,1)" font-weight="bold" font-size="47.8" fill="#000">G</text>
<text transform="translate(1616.02,511.80) scale(1.0000,1)" font-size="43.6" fill="#000">24h</text>
<text transform="translate(1368.80,749.68) rotate(-90) scale(1,1.08)" font-weight="bold" font-size="30.50">Paw Lifts</text>
<path d="M1455.6,826.3 V812.6 H1492.0 V826.3" fill="none" stroke="#000000" stroke-width="4.0"/>
<path d="M1520.4,826.3 V769.9 H1556.8 V826.3" fill="none" stroke="#f8920f" stroke-width="4.0"/>
<path d="M1585.8,826.3 V778.0 H1622.2 V826.3" fill="none" stroke="#208210" stroke-width="4.0"/>
<path d="M1650.8,826.3 V770.1 H1687.2 V826.3" fill="none" stroke="#4f80ff" stroke-width="4.0"/>
<path d="M1715.8,826.3 V755.0 H1752.2 V826.3" fill="none" stroke="#ea0008" stroke-width="4.0"/>
<path d="M1473.8,806.0 V815.0 M1462.8,806.0 h22 M1462.8,815.0 h22" fill="none" stroke="#000000" stroke-width="2.4"/>
<path d="M1538.6,757.5 V777.3 M1527.6,757.5 h22 M1527.6,777.3 h22" fill="none" stroke="#f8920f" stroke-width="2.4"/>
<path d="M1604.0,771.0 V783.0 M1593.0,771.0 h22 M1593.0,783.0 h22" fill="none" stroke="#208210" stroke-width="2.4"/>
<path d="M1669.0,757.0 V781.0 M1658.0,757.0 h22 M1658.0,781.0 h22" fill="none" stroke="#4f80ff" stroke-width="2.4"/>
<path d="M1734.0,741.3 V763.0 M1723.0,741.3 h22 M1723.0,763.0 h22" fill="none" stroke="#ea0008" stroke-width="2.4"/>
<circle cx="1473.4" cy="796.9" r="6.8" fill="#000000" fill-opacity="0.24" stroke="#000000" stroke-width="2.8"/>
<circle cx="1479.1" cy="796.9" r="6.8" fill="#000000" fill-opacity="0.24" stroke="#000000" stroke-width="2.8"/>
<circle cx="1464.6" cy="805.7" r="6.8" fill="#000000" fill-opacity="0.24" stroke="#000000" stroke-width="2.8"/>
<circle cx="1471.8" cy="805.7" r="6.8" fill="#000000" fill-opacity="0.24" stroke="#000000" stroke-width="2.8"/>
<circle cx="1482.3" cy="805.7" r="6.8" fill="#000000" fill-opacity="0.24" stroke="#000000" stroke-width="2.8"/>
<circle cx="1476.7" cy="813.0" r="6.8" fill="#000000" fill-opacity="0.24" stroke="#000000" stroke-width="2.8"/>
<circle cx="1459.8" cy="819.4" r="6.8" fill="#000000" fill-opacity="0.24" stroke="#000000" stroke-width="2.8"/>
<circle cx="1468.6" cy="819.4" r="6.8" fill="#000000" fill-opacity="0.24" stroke="#000000" stroke-width="2.8"/>
<circle cx="1478.3" cy="819.4" r="6.8" fill="#000000" fill-opacity="0.24" stroke="#000000" stroke-width="2.8"/>
<circle cx="1487.9" cy="819.4" r="6.8" fill="#000000" fill-opacity="0.24" stroke="#000000" stroke-width="2.8"/>
<circle cx="1467.0" cy="813.0" r="6.8" fill="#000000" fill-opacity="0.24" stroke="#000000" stroke-width="2.8"/>
<circle cx="1485.5" cy="813.0" r="6.8" fill="#000000" fill-opacity="0.24" stroke="#000000" stroke-width="2.8"/>
<circle cx="1534.6" cy="714.8" r="6.8" fill="#f8920f" fill-opacity="0.24" stroke="#f8920f" stroke-width="2.8"/>
<circle cx="1543.4" cy="714.8" r="6.8" fill="#f8920f" fill-opacity="0.24" stroke="#f8920f" stroke-width="2.8"/>
<circle cx="1538.9" cy="728.5" r="6.8" fill="#f8920f" fill-opacity="0.24" stroke="#f8920f" stroke-width="2.8"/>
<circle cx="1525.7" cy="756.2" r="6.8" fill="#f8920f" fill-opacity="0.24" stroke="#f8920f" stroke-width="2.8"/>
<circle cx="1552.3" cy="756.2" r="6.8" fill="#f8920f" fill-opacity="0.24" stroke="#f8920f" stroke-width="2.8"/>
<circle cx="1542.6" cy="763.1" r="6.8" fill="#f8920f" fill-opacity="0.24" stroke="#f8920f" stroke-width="2.8"/>
<circle cx="1533.8" cy="770.3" r="6.8" fill="#f8920f" fill-opacity="0.24" stroke="#f8920f" stroke-width="2.8"/>
<circle cx="1552.3" cy="777.6" r="6.8" fill="#f8920f" fill-opacity="0.24" stroke="#f8920f" stroke-width="2.8"/>
<circle cx="1542.6" cy="784.3" r="6.8" fill="#f8920f" fill-opacity="0.24" stroke="#f8920f" stroke-width="2.8"/>
<circle cx="1538.6" cy="798.5" r="6.8" fill="#f8920f" fill-opacity="0.24" stroke="#f8920f" stroke-width="2.8"/>
<circle cx="1534.6" cy="819.4" r="6.8" fill="#f8920f" fill-opacity="0.24" stroke="#f8920f" stroke-width="2.8"/>
<circle cx="1543.4" cy="819.4" r="6.8" fill="#f8920f" fill-opacity="0.24" stroke="#f8920f" stroke-width="2.8"/>
<circle cx="1603.8" cy="707.6" r="6.8" fill="#208210" fill-opacity="0.24" stroke="#208210" stroke-width="2.8"/>
<circle cx="1603.8" cy="735.7" r="6.8" fill="#208210" fill-opacity="0.24" stroke="#208210" stroke-width="2.8"/>
<circle cx="1590.9" cy="770.3" r="6.8" fill="#208210" fill-opacity="0.24" stroke="#208210" stroke-width="2.8"/>
<circle cx="1595.7" cy="770.3" r="6.8" fill="#208210" fill-opacity="0.24" stroke="#208210" stroke-width="2.8"/>
<circle cx="1606.2" cy="770.3" r="6.8" fill="#208210" fill-opacity="0.24" stroke="#208210" stroke-width="2.8"/>
<circle cx="1602.2" cy="777.6" r="6.8" fill="#208210" fill-opacity="0.24" stroke="#208210" stroke-width="2.8"/>
<circle cx="1613.4" cy="777.6" r="6.8" fill="#208210" fill-opacity="0.24" stroke="#208210" stroke-width="2.8"/>
<circle cx="1617.4" cy="777.6" r="6.8" fill="#208210" fill-opacity="0.24" stroke="#208210" stroke-width="2.8"/>
<circle cx="1603.8" cy="791.2" r="6.8" fill="#208210" fill-opacity="0.24" stroke="#208210" stroke-width="2.8"/>
<circle cx="1603.0" cy="798.5" r="6.8" fill="#208210" fill-opacity="0.24" stroke="#208210" stroke-width="2.8"/>
<circle cx="1601.4" cy="819.4" r="6.8" fill="#208210" fill-opacity="0.24" stroke="#208210" stroke-width="2.8"/>
<circle cx="1606.2" cy="819.4" r="6.8" fill="#208210" fill-opacity="0.24" stroke="#208210" stroke-width="2.8"/>
<circle cx="1675.5" cy="707.7" r="6.8" fill="#4f80ff" fill-opacity="0.24" stroke="#4f80ff" stroke-width="2.8"/>
<circle cx="1669.1" cy="714.7" r="6.8" fill="#4f80ff" fill-opacity="0.24" stroke="#4f80ff" stroke-width="2.8"/>
<circle cx="1669.1" cy="728.4" r="6.8" fill="#4f80ff" fill-opacity="0.24" stroke="#4f80ff" stroke-width="2.8"/>
<circle cx="1655.4" cy="763.4" r="6.8" fill="#4f80ff" fill-opacity="0.24" stroke="#4f80ff" stroke-width="2.8"/>
<circle cx="1663.4" cy="770.1" r="6.8" fill="#4f80ff" fill-opacity="0.24" stroke="#4f80ff" stroke-width="2.8"/>
<circle cx="1669.5" cy="770.1" r="6.8" fill="#4f80ff" fill-opacity="0.24" stroke="#4f80ff" stroke-width="2.8"/>
<circle cx="1655.4" cy="777.1" r="6.8" fill="#4f80ff" fill-opacity="0.24" stroke="#4f80ff" stroke-width="2.8"/>
<circle cx="1670.5" cy="784.2" r="6.8" fill="#4f80ff" fill-opacity="0.24" stroke="#4f80ff" stroke-width="2.8"/>
<circle cx="1681.5" cy="784.2" r="6.8" fill="#4f80ff" fill-opacity="0.24" stroke="#4f80ff" stroke-width="2.8"/>
<circle cx="1662.4" cy="791.2" r="6.8" fill="#4f80ff" fill-opacity="0.24" stroke="#4f80ff" stroke-width="2.8"/>
<circle cx="1676.5" cy="791.2" r="6.8" fill="#4f80ff" fill-opacity="0.24" stroke="#4f80ff" stroke-width="2.8"/>
<circle cx="1669.1" cy="819.4" r="6.8" fill="#4f80ff" fill-opacity="0.24" stroke="#4f80ff" stroke-width="2.8"/>
<circle cx="1740.9" cy="686.6" r="6.8" fill="#ea0008" fill-opacity="0.24" stroke="#ea0008" stroke-width="2.8"/>
<circle cx="1727.4" cy="693.6" r="6.8" fill="#ea0008" fill-opacity="0.24" stroke="#ea0008" stroke-width="2.8"/>
<circle cx="1733.9" cy="714.7" r="6.8" fill="#ea0008" fill-opacity="0.24" stroke="#ea0008" stroke-width="2.8"/>
<circle cx="1747.5" cy="742.5" r="6.8" fill="#ea0008" fill-opacity="0.24" stroke="#ea0008" stroke-width="2.8"/>
<circle cx="1720.8" cy="749.6" r="6.8" fill="#ea0008" fill-opacity="0.24" stroke="#ea0008" stroke-width="2.8"/>
<circle cx="1728.8" cy="749.6" r="6.8" fill="#ea0008" fill-opacity="0.24" stroke="#ea0008" stroke-width="2.8"/>
<circle cx="1727.4" cy="763.4" r="6.8" fill="#ea0008" fill-opacity="0.24" stroke="#ea0008" stroke-width="2.8"/>
<circle cx="1738.9" cy="763.4" r="6.8" fill="#ea0008" fill-opacity="0.24" stroke="#ea0008" stroke-width="2.8"/>
<circle cx="1747.9" cy="777.1" r="6.8" fill="#ea0008" fill-opacity="0.24" stroke="#ea0008" stroke-width="2.8"/>
<circle cx="1733.9" cy="784.2" r="6.8" fill="#ea0008" fill-opacity="0.24" stroke="#ea0008" stroke-width="2.8"/>
<circle cx="1740.9" cy="798.2" r="6.8" fill="#ea0008" fill-opacity="0.24" stroke="#ea0008" stroke-width="2.8"/>
<circle cx="1727.4" cy="805.3" r="6.8" fill="#ea0008" fill-opacity="0.24" stroke="#ea0008" stroke-width="2.8"/>
<path d="M1430.1,545.0 V827.6" stroke="#000" stroke-width="2.6" fill="none"/>
<path d="M1417.2,826.3 H1779.1" stroke="#000" stroke-width="2.6" fill="none"/>
<path d="M1416.8,826.3 H1430.1" stroke="#000" stroke-width="2.6" fill="none"/>
<text x="1398.00" y="835.61" font-weight="bold" font-size="26.6">0</text>
<path d="M1416.8,756.3 H1430.1" stroke="#000" stroke-width="2.6" fill="none"/>
<text x="1383.24" y="765.61" font-weight="bold" font-size="26.6">10</text>
<path d="M1416.8,686.3 H1430.1" stroke="#000" stroke-width="2.6" fill="none"/>
<text x="1383.24" y="695.61" font-weight="bold" font-size="26.6">20</text>
<path d="M1416.8,616.3 H1430.1" stroke="#000" stroke-width="2.6" fill="none"/>
<text x="1383.24" y="625.61" font-weight="bold" font-size="26.6">30</text>
<path d="M1416.8,546.3 H1430.1" stroke="#000" stroke-width="2.6" fill="none"/>
<text x="1383.24" y="555.61" font-weight="bold" font-size="26.6">40</text>
<path d="M1473.8,826.3 V837.6" stroke="#000" stroke-width="2.3000000000000003" fill="none"/>
<path d="M1538.6,826.3 V837.6" stroke="#000" stroke-width="2.3000000000000003" fill="none"/>
<path d="M1604.0,826.3 V837.6" stroke="#000" stroke-width="2.3000000000000003" fill="none"/>
<path d="M1669.0,826.3 V837.6" stroke="#000" stroke-width="2.3000000000000003" fill="none"/>
<path d="M1734.0,826.3 V837.6" stroke="#000" stroke-width="2.3000000000000003" fill="none"/>
<text x="1667.20" y="628.70" text-anchor="middle" font-size="31.5" fill="#000">NS</text>
<line x1="1602.6" y1="639.9" x2="1729.9" y2="637.9" stroke="#000" stroke-width="3.2" stroke-linecap="round"/>
<text x="1462.6" y="773.6" font-weight="bold" font-size="53">*</text>
<text transform="translate(250.25,932.80) scale(0.9503,1)" font-weight="bold" font-size="47.8" fill="#000">H</text>
<text transform="translate(523.43,927.80) scale(1.0000,1)" font-size="43.6" fill="#000">1h</text>
<text transform="translate(275.40,1157.27) rotate(-90) scale(1,1.08)" font-weight="bold" font-size="30.34">Paw Lifts</text>
<path d="M364.8,1230.2 V1218.0 H401.2 V1230.2" fill="none" stroke="#000000" stroke-width="4.0"/>
<path d="M429.8,1230.2 V1149.5 H466.2 V1230.2" fill="none" stroke="#f8920f" stroke-width="4.0"/>
<path d="M494.5,1230.2 V1162.7 H530.9 V1230.2" fill="none" stroke="#208210" stroke-width="4.0"/>
<path d="M559.6,1230.2 V1160.4 H596.0 V1230.2" fill="none" stroke="#4f80ff" stroke-width="4.0"/>
<path d="M624.8,1230.2 V1182.2 H661.2 V1230.2" fill="none" stroke="#ea0008" stroke-width="4.0"/>
<path d="M448.0,1135.5 V1158.5 M437.0,1135.5 h22 M437.0,1158.5 h22" fill="none" stroke="#f8920f" stroke-width="2.4"/>
<path d="M512.7,1146.0 V1174.0 M501.7,1146.0 h22 M501.7,1174.0 h22" fill="none" stroke="#208210" stroke-width="2.4"/>
<path d="M577.8,1142.0 V1173.4 M566.8,1142.0 h22 M566.8,1173.4 h22" fill="none" stroke="#4f80ff" stroke-width="2.4"/>
<path d="M643.0,1171.0 V1188.4 M632.0,1171.0 h22 M632.0,1188.4 h22" fill="none" stroke="#ea0008" stroke-width="2.4"/>
<circle cx="382.6" cy="1195.1" r="6.8" fill="#000000" fill-opacity="0.24" stroke="#000000" stroke-width="2.8"/>
<circle cx="377.0" cy="1202.3" r="6.8" fill="#000000" fill-opacity="0.24" stroke="#000000" stroke-width="2.8"/>
<circle cx="388.3" cy="1202.3" r="6.8" fill="#000000" fill-opacity="0.24" stroke="#000000" stroke-width="2.8"/>
<circle cx="373.8" cy="1209.5" r="6.8" fill="#000000" fill-opacity="0.24" stroke="#000000" stroke-width="2.8"/>
<circle cx="382.6" cy="1208.7" r="6.8" fill="#000000" fill-opacity="0.24" stroke="#000000" stroke-width="2.8"/>
<circle cx="391.5" cy="1209.5" r="6.8" fill="#000000" fill-opacity="0.24" stroke="#000000" stroke-width="2.8"/>
<circle cx="369.0" cy="1216.0" r="6.8" fill="#000000" fill-opacity="0.24" stroke="#000000" stroke-width="2.8"/>
<circle cx="378.6" cy="1216.0" r="6.8" fill="#000000" fill-opacity="0.24" stroke="#000000" stroke-width="2.8"/>
<circle cx="388.3" cy="1216.0" r="6.8" fill="#000000" fill-opacity="0.24" stroke="#000000" stroke-width="2.8"/>
<circle cx="396.3" cy="1216.0" r="6.8" fill="#000000" fill-opacity="0.24" stroke="#000000" stroke-width="2.8"/>
<circle cx="372.2" cy="1223.2" r="6.8" fill="#000000" fill-opacity="0.24" stroke="#000000" stroke-width="2.8"/>
<circle cx="382.6" cy="1223.2" r="6.8" fill="#000000" fill-opacity="0.24" stroke="#000000" stroke-width="2.8"/>
<circle cx="393.1" cy="1223.2" r="6.8" fill="#000000" fill-opacity="0.24" stroke="#000000" stroke-width="2.8"/>
<circle cx="373.8" cy="1230.4" r="6.8" fill="#000000" fill-opacity="0.24" stroke="#000000" stroke-width="2.8"/>
<circle cx="382.6" cy="1232.1" r="6.8" fill="#000000" fill-opacity="0.24" stroke="#000000" stroke-width="2.8"/>
<circle cx="391.5" cy="1230.4" r="6.8" fill="#000000" fill-opacity="0.24" stroke="#000000" stroke-width="2.8"/>
<circle cx="447.8" cy="1076.0" r="6.8" fill="#f8920f" fill-opacity="0.24" stroke="#f8920f" stroke-width="2.8"/>
<circle cx="447.8" cy="1097.4" r="6.8" fill="#f8920f" fill-opacity="0.24" stroke="#f8920f" stroke-width="2.8"/>
<circle cx="447.8" cy="1110.9" r="6.8" fill="#f8920f" fill-opacity="0.24" stroke="#f8920f" stroke-width="2.8"/>
<circle cx="434.1" cy="1131.8" r="6.8" fill="#f8920f" fill-opacity="0.24" stroke="#f8920f" stroke-width="2.8"/>
<circle cx="452.6" cy="1131.8" r="6.8" fill="#f8920f" fill-opacity="0.24" stroke="#f8920f" stroke-width="2.8"/>
<circle cx="443.0" cy="1139.5" r="6.8" fill="#f8920f" fill-opacity="0.24" stroke="#f8920f" stroke-width="2.8"/>
<circle cx="461.5" cy="1139.1" r="6.8" fill="#f8920f" fill-opacity="0.24" stroke="#f8920f" stroke-width="2.8"/>
<circle cx="447.8" cy="1154.0" r="6.8" fill="#f8920f" fill-opacity="0.24" stroke="#f8920f" stroke-width="2.8"/>
<circle cx="447.8" cy="1174.6" r="6.8" fill="#f8920f" fill-opacity="0.24" stroke="#f8920f" stroke-width="2.8"/>
<circle cx="447.8" cy="1188.3" r="6.8" fill="#f8920f" fill-opacity="0.24" stroke="#f8920f" stroke-width="2.8"/>
<circle cx="452.6" cy="1202.3" r="6.8" fill="#f8920f" fill-opacity="0.24" stroke="#f8920f" stroke-width="2.8"/>
<circle cx="443.0" cy="1209.5" r="6.8" fill="#f8920f" fill-opacity="0.24" stroke="#f8920f" stroke-width="2.8"/>
<circle cx="512.6" cy="1069.1" r="6.8" fill="#208210" fill-opacity="0.24" stroke="#208210" stroke-width="2.8"/>
<circle cx="508.9" cy="1090.0" r="6.8" fill="#208210" fill-opacity="0.24" stroke="#208210" stroke-width="2.8"/>
<circle cx="516.2" cy="1090.0" r="6.8" fill="#208210" fill-opacity="0.24" stroke="#208210" stroke-width="2.8"/>
<circle cx="508.9" cy="1146.0" r="6.8" fill="#208210" fill-opacity="0.24" stroke="#208210" stroke-width="2.8"/>
<circle cx="516.2" cy="1146.0" r="6.8" fill="#208210" fill-opacity="0.24" stroke="#208210" stroke-width="2.8"/>
<circle cx="505.7" cy="1181.4" r="6.8" fill="#208210" fill-opacity="0.24" stroke="#208210" stroke-width="2.8"/>
<circle cx="526.6" cy="1181.4" r="6.8" fill="#208210" fill-opacity="0.24" stroke="#208210" stroke-width="2.8"/>
<circle cx="512.6" cy="1188.3" r="6.8" fill="#208210" fill-opacity="0.24" stroke="#208210" stroke-width="2.8"/>
<circle cx="499.3" cy="1195.5" r="6.8" fill="#208210" fill-opacity="0.24" stroke="#208210" stroke-width="2.8"/>
<circle cx="526.6" cy="1195.5" r="6.8" fill="#208210" fill-opacity="0.24" stroke="#208210" stroke-width="2.8"/>
<circle cx="512.6" cy="1202.3" r="6.8" fill="#208210" fill-opacity="0.24" stroke="#208210" stroke-width="2.8"/>
<circle cx="512.6" cy="1223.2" r="6.8" fill="#208210" fill-opacity="0.24" stroke="#208210" stroke-width="2.8"/>
<circle cx="577.9" cy="1041.2" r="6.8" fill="#4f80ff" fill-opacity="0.24" stroke="#4f80ff" stroke-width="2.8"/>
<circle cx="577.9" cy="1089.7" r="6.8" fill="#4f80ff" fill-opacity="0.24" stroke="#4f80ff" stroke-width="2.8"/>
<circle cx="577.9" cy="1104.2" r="6.8" fill="#4f80ff" fill-opacity="0.24" stroke="#4f80ff" stroke-width="2.8"/>
<circle cx="577.9" cy="1145.7" r="6.8" fill="#4f80ff" fill-opacity="0.24" stroke="#4f80ff" stroke-width="2.8"/>
<circle cx="563.9" cy="1160.1" r="6.8" fill="#4f80ff" fill-opacity="0.24" stroke="#4f80ff" stroke-width="2.8"/>
<circle cx="577.9" cy="1167.4" r="6.8" fill="#4f80ff" fill-opacity="0.24" stroke="#4f80ff" stroke-width="2.8"/>
<circle cx="591.7" cy="1174.1" r="6.8" fill="#4f80ff" fill-opacity="0.24" stroke="#4f80ff" stroke-width="2.8"/>
<circle cx="577.9" cy="1181.8" r="6.8" fill="#4f80ff" fill-opacity="0.24" stroke="#4f80ff" stroke-width="2.8"/>
<circle cx="571.2" cy="1195.8" r="6.8" fill="#4f80ff" fill-opacity="0.24" stroke="#4f80ff" stroke-width="2.8"/>
<circle cx="584.9" cy="1195.8" r="6.8" fill="#4f80ff" fill-opacity="0.24" stroke="#4f80ff" stroke-width="2.8"/>
<circle cx="571.2" cy="1216.8" r="6.8" fill="#4f80ff" fill-opacity="0.24" stroke="#4f80ff" stroke-width="2.8"/>
<circle cx="584.9" cy="1216.8" r="6.8" fill="#4f80ff" fill-opacity="0.24" stroke="#4f80ff" stroke-width="2.8"/>
<circle cx="643.5" cy="1117.4" r="6.8" fill="#ea0008" fill-opacity="0.24" stroke="#ea0008" stroke-width="2.8"/>
<circle cx="643.5" cy="1138.9" r="6.8" fill="#ea0008" fill-opacity="0.24" stroke="#ea0008" stroke-width="2.8"/>
<circle cx="629.8" cy="1160.1" r="6.8" fill="#ea0008" fill-opacity="0.24" stroke="#ea0008" stroke-width="2.8"/>
<circle cx="656.8" cy="1166.9" r="6.8" fill="#ea0008" fill-opacity="0.24" stroke="#ea0008" stroke-width="2.8"/>
<circle cx="636.3" cy="1166.9" r="6.8" fill="#ea0008" fill-opacity="0.24" stroke="#ea0008" stroke-width="2.8"/>
<circle cx="643.5" cy="1174.6" r="6.8" fill="#ea0008" fill-opacity="0.24" stroke="#ea0008" stroke-width="2.8"/>
<circle cx="650.8" cy="1174.6" r="6.8" fill="#ea0008" fill-opacity="0.24" stroke="#ea0008" stroke-width="2.8"/>
<circle cx="636.3" cy="1181.8" r="6.8" fill="#ea0008" fill-opacity="0.24" stroke="#ea0008" stroke-width="2.8"/>
<circle cx="639.9" cy="1209.6" r="6.8" fill="#ea0008" fill-opacity="0.24" stroke="#ea0008" stroke-width="2.8"/>
<circle cx="647.2" cy="1209.6" r="6.8" fill="#ea0008" fill-opacity="0.24" stroke="#ea0008" stroke-width="2.8"/>
<circle cx="639.9" cy="1224.1" r="6.8" fill="#ea0008" fill-opacity="0.24" stroke="#ea0008" stroke-width="2.8"/>
<circle cx="647.2" cy="1224.1" r="6.8" fill="#ea0008" fill-opacity="0.24" stroke="#ea0008" stroke-width="2.8"/>
<path d="M338.7,948.9 V1231.5" stroke="#000" stroke-width="2.6" fill="none"/>
<path d="M326.4,1230.2 H688.0" stroke="#000" stroke-width="2.6" fill="none"/>
<path d="M325.4,1230.2 H338.7" stroke="#000" stroke-width="2.6" fill="none"/>
<text x="306.90" y="1239.51" font-weight="bold" font-size="26.6">0</text>
<path d="M325.4,1160.2 H338.7" stroke="#000" stroke-width="2.6" fill="none"/>
<text x="292.14" y="1169.51" font-weight="bold" font-size="26.6">10</text>
<path d="M325.4,1090.2 H338.7" stroke="#000" stroke-width="2.6" fill="none"/>
<text x="292.14" y="1099.51" font-weight="bold" font-size="26.6">20</text>
<path d="M325.4,1020.2 H338.7" stroke="#000" stroke-width="2.6" fill="none"/>
<text x="292.14" y="1029.51" font-weight="bold" font-size="26.6">30</text>
<path d="M325.4,950.2 H338.7" stroke="#000" stroke-width="2.6" fill="none"/>
<text x="292.14" y="959.51" font-weight="bold" font-size="26.6">40</text>
<path d="M383.0,1230.2 V1241.5" stroke="#000" stroke-width="2.3000000000000003" fill="none"/>
<path d="M448.0,1230.2 V1241.5" stroke="#000" stroke-width="2.3000000000000003" fill="none"/>
<path d="M512.7,1230.2 V1241.5" stroke="#000" stroke-width="2.3000000000000003" fill="none"/>
<path d="M577.8,1230.2 V1241.5" stroke="#000" stroke-width="2.3000000000000003" fill="none"/>
<path d="M643.0,1230.2 V1241.5" stroke="#000" stroke-width="2.3000000000000003" fill="none"/>
<text x="576.20" y="995.40" text-anchor="middle" font-size="31.5" fill="#000">NS</text>
<line x1="511.6" y1="1007.7" x2="639.6" y2="1005.2" stroke="#000" stroke-width="3.2" stroke-linecap="round"/>
<text x="368.7" y="1166.8" font-weight="bold" font-size="53">*</text>
<rect x="376.7" y="1181.4" width="8" height="8" fill="#000"/>
<path d="M380.7,1186 V1222" stroke="#000" stroke-width="2.4"/>
<text transform="translate(790.29,932.80) scale(1.0965,1)" font-weight="bold" font-size="47.8" fill="#000">I</text>
<text transform="translate(1071.91,927.80) scale(1.0000,1)" font-size="43.6" fill="#000">4h</text>
<text transform="translate(823.60,1153.18) rotate(-90) scale(1,1.08)" font-weight="bold" font-size="30.48">Paw Lifts</text>
<path d="M912.4,1230.2 V1220.4 H948.8 V1230.2" fill="none" stroke="#000000" stroke-width="4.0"/>
<path d="M977.4,1230.2 V1160.8 H1013.8 V1230.2" fill="none" stroke="#f8920f" stroke-width="4.0"/>
<path d="M1043.0,1230.2 V1157.6 H1079.4 V1230.2" fill="none" stroke="#208210" stroke-width="4.0"/>
<path d="M1107.7,1230.2 V1170.6 H1144.1 V1230.2" fill="none" stroke="#4f80ff" stroke-width="4.0"/>
<path d="M1172.7,1230.2 V1170.6 H1209.1 V1230.2" fill="none" stroke="#ea0008" stroke-width="4.0"/>
<path d="M930.6,1213.0 V1222.0 M919.6,1213.0 h22 M919.6,1222.0 h22" fill="none" stroke="#000000" stroke-width="2.4"/>
<path d="M995.6,1148.4 V1167.7 M984.6,1148.4 h22 M984.6,1167.7 h22" fill="none" stroke="#f8920f" stroke-width="2.4"/>
<path d="M1061.2,1143.6 V1166.9 M1050.2,1143.6 h22 M1050.2,1166.9 h22" fill="none" stroke="#208210" stroke-width="2.4"/>
<path d="M1125.9,1158.9 V1180.6 M1114.9,1158.9 h22 M1114.9,1180.6 h22" fill="none" stroke="#4f80ff" stroke-width="2.4"/>
<path d="M1190.9,1154.1 V1180.0 M1179.9,1154.1 h22 M1179.9,1180.0 h22" fill="none" stroke="#ea0008" stroke-width="2.4"/>
<circle cx="930.7" cy="1202.3" r="6.8" fill="#000000" fill-opacity="0.24" stroke="#000000" stroke-width="2.8"/>
<circle cx="921.4" cy="1208.7" r="6.8" fill="#000000" fill-opacity="0.24" stroke="#000000" stroke-width="2.8"/>
<circle cx="944.7" cy="1208.7" r="6.8" fill="#000000" fill-opacity="0.24" stroke="#000000" stroke-width="2.8"/>
<circle cx="916.5" cy="1216.0" r="6.8" fill="#000000" fill-opacity="0.24" stroke="#000000" stroke-width="2.8"/>
<circle cx="928.6" cy="1216.0" r="6.8" fill="#000000" fill-opacity="0.24" stroke="#000000" stroke-width="2.8"/>
<circle cx="938.3" cy="1216.0" r="6.8" fill="#000000" fill-opacity="0.24" stroke="#000000" stroke-width="2.8"/>
<circle cx="920.6" cy="1223.2" r="6.8" fill="#000000" fill-opacity="0.24" stroke="#000000" stroke-width="2.8"/>
<circle cx="930.2" cy="1223.2" r="6.8" fill="#000000" fill-opacity="0.24" stroke="#000000" stroke-width="2.8"/>
<circle cx="939.9" cy="1223.2" r="6.8" fill="#000000" fill-opacity="0.24" stroke="#000000" stroke-width="2.8"/>
<circle cx="924.6" cy="1230.4" r="6.8" fill="#000000" fill-opacity="0.24" stroke="#000000" stroke-width="2.8"/>
<circle cx="932.6" cy="1230.4" r="6.8" fill="#000000" fill-opacity="0.24" stroke="#000000" stroke-width="2.8"/>
<circle cx="946.3" cy="1216.0" r="6.8" fill="#000000" fill-opacity="0.24" stroke="#000000" stroke-width="2.8"/>
<circle cx="995.7" cy="1090.1" r="6.8" fill="#f8920f" fill-opacity="0.24" stroke="#f8920f" stroke-width="2.8"/>
<circle cx="989.0" cy="1118.1" r="6.8" fill="#f8920f" fill-opacity="0.24" stroke="#f8920f" stroke-width="2.8"/>
<circle cx="1002.6" cy="1125.1" r="6.8" fill="#f8920f" fill-opacity="0.24" stroke="#f8920f" stroke-width="2.8"/>
<circle cx="995.7" cy="1132.0" r="6.8" fill="#f8920f" fill-opacity="0.24" stroke="#f8920f" stroke-width="2.8"/>
<circle cx="995.7" cy="1146.0" r="6.8" fill="#f8920f" fill-opacity="0.24" stroke="#f8920f" stroke-width="2.8"/>
<circle cx="991.4" cy="1160.5" r="6.8" fill="#f8920f" fill-opacity="0.24" stroke="#f8920f" stroke-width="2.8"/>
<circle cx="998.6" cy="1167.7" r="6.8" fill="#f8920f" fill-opacity="0.24" stroke="#f8920f" stroke-width="2.8"/>
<circle cx="989.0" cy="1181.4" r="6.8" fill="#f8920f" fill-opacity="0.24" stroke="#f8920f" stroke-width="2.8"/>
<circle cx="1002.6" cy="1188.6" r="6.8" fill="#f8920f" fill-opacity="0.24" stroke="#f8920f" stroke-width="2.8"/>
<circle cx="981.7" cy="1195.4" r="6.8" fill="#f8920f" fill-opacity="0.24" stroke="#f8920f" stroke-width="2.8"/>
<circle cx="995.7" cy="1195.4" r="6.8" fill="#f8920f" fill-opacity="0.24" stroke="#f8920f" stroke-width="2.8"/>
<circle cx="1009.9" cy="1195.4" r="6.8" fill="#f8920f" fill-opacity="0.24" stroke="#f8920f" stroke-width="2.8"/>
<circle cx="1054.1" cy="1090.1" r="6.8" fill="#208210" fill-opacity="0.24" stroke="#208210" stroke-width="2.8"/>
<circle cx="1068.6" cy="1090.1" r="6.8" fill="#208210" fill-opacity="0.24" stroke="#208210" stroke-width="2.8"/>
<circle cx="1061.4" cy="1118.1" r="6.8" fill="#208210" fill-opacity="0.24" stroke="#208210" stroke-width="2.8"/>
<circle cx="1054.1" cy="1138.7" r="6.8" fill="#208210" fill-opacity="0.24" stroke="#208210" stroke-width="2.8"/>
<circle cx="1067.8" cy="1138.7" r="6.8" fill="#208210" fill-opacity="0.24" stroke="#208210" stroke-width="2.8"/>
<circle cx="1046.9" cy="1160.5" r="6.8" fill="#208210" fill-opacity="0.24" stroke="#208210" stroke-width="2.8"/>
<circle cx="1054.1" cy="1160.5" r="6.8" fill="#208210" fill-opacity="0.24" stroke="#208210" stroke-width="2.8"/>
<circle cx="1061.4" cy="1160.5" r="6.8" fill="#208210" fill-opacity="0.24" stroke="#208210" stroke-width="2.8"/>
<circle cx="1068.6" cy="1160.5" r="6.8" fill="#208210" fill-opacity="0.24" stroke="#208210" stroke-width="2.8"/>
<circle cx="1075.8" cy="1160.5" r="6.8" fill="#208210" fill-opacity="0.24" stroke="#208210" stroke-width="2.8"/>
<circle cx="1047.7" cy="1188.6" r="6.8" fill="#208210" fill-opacity="0.24" stroke="#208210" stroke-width="2.8"/>
<circle cx="1061.4" cy="1195.4" r="6.8" fill="#208210" fill-opacity="0.24" stroke="#208210" stroke-width="2.8"/>
<circle cx="1075.0" cy="1195.4" r="6.8" fill="#208210" fill-opacity="0.24" stroke="#208210" stroke-width="2.8"/>
<circle cx="1061.4" cy="1209.5" r="6.8" fill="#208210" fill-opacity="0.24" stroke="#208210" stroke-width="2.8"/>
<circle cx="1126.2" cy="1089.7" r="6.8" fill="#4f80ff" fill-opacity="0.24" stroke="#4f80ff" stroke-width="2.8"/>
<circle cx="1126.2" cy="1117.4" r="6.8" fill="#4f80ff" fill-opacity="0.24" stroke="#4f80ff" stroke-width="2.8"/>
<circle cx="1126.2" cy="1131.7" r="6.8" fill="#4f80ff" fill-opacity="0.24" stroke="#4f80ff" stroke-width="2.8"/>
<circle cx="1126.2" cy="1152.4" r="6.8" fill="#4f80ff" fill-opacity="0.24" stroke="#4f80ff" stroke-width="2.8"/>
<circle cx="1112.2" cy="1174.1" r="6.8" fill="#4f80ff" fill-opacity="0.24" stroke="#4f80ff" stroke-width="2.8"/>
<circle cx="1126.2" cy="1174.1" r="6.8" fill="#4f80ff" fill-opacity="0.24" stroke="#4f80ff" stroke-width="2.8"/>
<circle cx="1140.5" cy="1174.1" r="6.8" fill="#4f80ff" fill-opacity="0.24" stroke="#4f80ff" stroke-width="2.8"/>
<circle cx="1133.2" cy="1188.6" r="6.8" fill="#4f80ff" fill-opacity="0.24" stroke="#4f80ff" stroke-width="2.8"/>
<circle cx="1119.2" cy="1195.8" r="6.8" fill="#4f80ff" fill-opacity="0.24" stroke="#4f80ff" stroke-width="2.8"/>
<circle cx="1126.2" cy="1209.6" r="6.8" fill="#4f80ff" fill-opacity="0.24" stroke="#4f80ff" stroke-width="2.8"/>
<circle cx="1140.5" cy="1216.8" r="6.8" fill="#4f80ff" fill-opacity="0.24" stroke="#4f80ff" stroke-width="2.8"/>
<circle cx="1112.7" cy="1223.6" r="6.8" fill="#4f80ff" fill-opacity="0.24" stroke="#4f80ff" stroke-width="2.8"/>
<circle cx="1191.1" cy="1068.9" r="6.8" fill="#ea0008" fill-opacity="0.24" stroke="#ea0008" stroke-width="2.8"/>
<circle cx="1191.1" cy="1125.1" r="6.8" fill="#ea0008" fill-opacity="0.24" stroke="#ea0008" stroke-width="2.8"/>
<circle cx="1186.3" cy="1145.7" r="6.8" fill="#ea0008" fill-opacity="0.24" stroke="#ea0008" stroke-width="2.8"/>
<circle cx="1196.0" cy="1145.7" r="6.8" fill="#ea0008" fill-opacity="0.24" stroke="#ea0008" stroke-width="2.8"/>
<circle cx="1191.1" cy="1160.1" r="6.8" fill="#ea0008" fill-opacity="0.24" stroke="#ea0008" stroke-width="2.8"/>
<circle cx="1177.9" cy="1174.1" r="6.8" fill="#ea0008" fill-opacity="0.24" stroke="#ea0008" stroke-width="2.8"/>
<circle cx="1186.3" cy="1181.8" r="6.8" fill="#ea0008" fill-opacity="0.24" stroke="#ea0008" stroke-width="2.8"/>
<circle cx="1196.0" cy="1181.8" r="6.8" fill="#ea0008" fill-opacity="0.24" stroke="#ea0008" stroke-width="2.8"/>
<circle cx="1204.4" cy="1181.8" r="6.8" fill="#ea0008" fill-opacity="0.24" stroke="#ea0008" stroke-width="2.8"/>
<circle cx="1191.1" cy="1195.8" r="6.8" fill="#ea0008" fill-opacity="0.24" stroke="#ea0008" stroke-width="2.8"/>
<circle cx="1196.0" cy="1216.8" r="6.8" fill="#ea0008" fill-opacity="0.24" stroke="#ea0008" stroke-width="2.8"/>
<circle cx="1186.3" cy="1223.6" r="6.8" fill="#ea0008" fill-opacity="0.24" stroke="#ea0008" stroke-width="2.8"/>
<path d="M886.6,948.9 V1231.5" stroke="#000" stroke-width="2.6" fill="none"/>
<path d="M874.1,1230.2 H1236.3" stroke="#000" stroke-width="2.6" fill="none"/>
<path d="M873.3,1230.2 H886.6" stroke="#000" stroke-width="2.6" fill="none"/>
<text x="853.90" y="1239.51" font-weight="bold" font-size="26.6">0</text>
<path d="M873.3,1160.2 H886.6" stroke="#000" stroke-width="2.6" fill="none"/>
<text x="839.14" y="1169.51" font-weight="bold" font-size="26.6">10</text>
<path d="M873.3,1090.2 H886.6" stroke="#000" stroke-width="2.6" fill="none"/>
<text x="839.14" y="1099.51" font-weight="bold" font-size="26.6">20</text>
<path d="M873.3,1020.2 H886.6" stroke="#000" stroke-width="2.6" fill="none"/>
<text x="839.14" y="1029.51" font-weight="bold" font-size="26.6">30</text>
<path d="M873.3,950.2 H886.6" stroke="#000" stroke-width="2.6" fill="none"/>
<text x="839.14" y="959.51" font-weight="bold" font-size="26.6">40</text>
<path d="M930.6,1230.2 V1241.5" stroke="#000" stroke-width="2.3000000000000003" fill="none"/>
<path d="M995.6,1230.2 V1241.5" stroke="#000" stroke-width="2.3000000000000003" fill="none"/>
<path d="M1061.2,1230.2 V1241.5" stroke="#000" stroke-width="2.3000000000000003" fill="none"/>
<path d="M1125.9,1230.2 V1241.5" stroke="#000" stroke-width="2.3000000000000003" fill="none"/>
<path d="M1190.9,1230.2 V1241.5" stroke="#000" stroke-width="2.3000000000000003" fill="none"/>
<text x="1129.20" y="1032.80" text-anchor="middle" font-size="31.5" fill="#000">NS</text>
<line x1="1064.8" y1="1043.8" x2="1192.0" y2="1041.4" stroke="#000" stroke-width="3.2" stroke-linecap="round"/>
<text x="924.5" y="1182.8" font-weight="bold" font-size="53">*</text>
<text transform="translate(1343.28,932.80) scale(0.9998,1)" font-weight="bold" font-size="47.8" fill="#000">J</text>
<text transform="translate(1615.82,927.80) scale(1.0000,1)" font-size="43.6" fill="#000">24h</text>
<text transform="translate(1368.20,1157.07) rotate(-90) scale(1,1.08)" font-weight="bold" font-size="30.29">Paw Lifts</text>
<path d="M1457.3,1230.2 V1228.0 H1493.7 V1230.2" fill="none" stroke="#000000" stroke-width="4.0"/>
<path d="M1522.8,1230.2 V1175.3 H1559.2 V1230.2" fill="none" stroke="#f8920f" stroke-width="4.0"/>
<path d="M1587.9,1230.2 V1179.8 H1624.3 V1230.2" fill="none" stroke="#208210" stroke-width="4.0"/>
<path d="M1652.7,1230.2 V1177.8 H1689.1 V1230.2" fill="none" stroke="#4f80ff" stroke-width="4.0"/>
<path d="M1717.3,1230.2 V1185.8 H1753.7 V1230.2" fill="none" stroke="#ea0008" stroke-width="4.0"/>
<path d="M1541.0,1160.5 V1186.0 M1530.0,1160.5 h22 M1530.0,1186.0 h22" fill="none" stroke="#f8920f" stroke-width="2.4"/>
<path d="M1606.1,1166.6 V1188.6 M1595.1,1166.6 h22 M1595.1,1188.6 h22" fill="none" stroke="#208210" stroke-width="2.4"/>
<path d="M1670.9,1169.0 V1182.0 M1659.9,1169.0 h22 M1659.9,1182.0 h22" fill="none" stroke="#4f80ff" stroke-width="2.4"/>
<path d="M1735.5,1171.0 V1193.9 M1724.5,1171.0 h22 M1724.5,1193.9 h22" fill="none" stroke="#ea0008" stroke-width="2.4"/>
<circle cx="1472.0" cy="1216.0" r="6.8" fill="#000000" fill-opacity="0.24" stroke="#000000" stroke-width="2.8"/>
<circle cx="1476.8" cy="1216.0" r="6.8" fill="#000000" fill-opacity="0.24" stroke="#000000" stroke-width="2.8"/>
<circle cx="1480.9" cy="1216.8" r="6.8" fill="#000000" fill-opacity="0.24" stroke="#000000" stroke-width="2.8"/>
<circle cx="1465.6" cy="1223.2" r="6.8" fill="#000000" fill-opacity="0.24" stroke="#000000" stroke-width="2.8"/>
<circle cx="1472.0" cy="1223.2" r="6.8" fill="#000000" fill-opacity="0.24" stroke="#000000" stroke-width="2.8"/>
<circle cx="1477.6" cy="1223.2" r="6.8" fill="#000000" fill-opacity="0.24" stroke="#000000" stroke-width="2.8"/>
<circle cx="1461.5" cy="1230.4" r="6.8" fill="#000000" fill-opacity="0.24" stroke="#000000" stroke-width="2.8"/>
<circle cx="1467.2" cy="1230.4" r="6.8" fill="#000000" fill-opacity="0.24" stroke="#000000" stroke-width="2.8"/>
<circle cx="1473.6" cy="1230.4" r="6.8" fill="#000000" fill-opacity="0.24" stroke="#000000" stroke-width="2.8"/>
<circle cx="1480.1" cy="1230.4" r="6.8" fill="#000000" fill-opacity="0.24" stroke="#000000" stroke-width="2.8"/>
<circle cx="1485.7" cy="1230.4" r="6.8" fill="#000000" fill-opacity="0.24" stroke="#000000" stroke-width="2.8"/>
<circle cx="1490.5" cy="1229.6" r="6.8" fill="#000000" fill-opacity="0.24" stroke="#000000" stroke-width="2.8"/>
<circle cx="1537.5" cy="1090.1" r="6.8" fill="#f8920f" fill-opacity="0.24" stroke="#f8920f" stroke-width="2.8"/>
<circle cx="1544.4" cy="1097.2" r="6.8" fill="#f8920f" fill-opacity="0.24" stroke="#f8920f" stroke-width="2.8"/>
<circle cx="1540.7" cy="1152.4" r="6.8" fill="#f8920f" fill-opacity="0.24" stroke="#f8920f" stroke-width="2.8"/>
<circle cx="1540.7" cy="1160.5" r="6.8" fill="#f8920f" fill-opacity="0.24" stroke="#f8920f" stroke-width="2.8"/>
<circle cx="1540.7" cy="1183.0" r="6.8" fill="#f8920f" fill-opacity="0.24" stroke="#f8920f" stroke-width="2.8"/>
<circle cx="1534.0" cy="1188.6" r="6.8" fill="#f8920f" fill-opacity="0.24" stroke="#f8920f" stroke-width="2.8"/>
<circle cx="1547.6" cy="1188.6" r="6.8" fill="#f8920f" fill-opacity="0.24" stroke="#f8920f" stroke-width="2.8"/>
<circle cx="1527.5" cy="1195.4" r="6.8" fill="#f8920f" fill-opacity="0.24" stroke="#f8920f" stroke-width="2.8"/>
<circle cx="1554.1" cy="1195.4" r="6.8" fill="#f8920f" fill-opacity="0.24" stroke="#f8920f" stroke-width="2.8"/>
<circle cx="1540.7" cy="1202.3" r="6.8" fill="#f8920f" fill-opacity="0.24" stroke="#f8920f" stroke-width="2.8"/>
<circle cx="1540.7" cy="1223.2" r="6.8" fill="#f8920f" fill-opacity="0.24" stroke="#f8920f" stroke-width="2.8"/>
<circle cx="1540.7" cy="1188.6" r="6.8" fill="#f8920f" fill-opacity="0.24" stroke="#f8920f" stroke-width="2.8"/>
<circle cx="1605.6" cy="1117.8" r="6.8" fill="#208210" fill-opacity="0.24" stroke="#208210" stroke-width="2.8"/>
<circle cx="1605.6" cy="1125.1" r="6.8" fill="#208210" fill-opacity="0.24" stroke="#208210" stroke-width="2.8"/>
<circle cx="1592.7" cy="1132.0" r="6.8" fill="#208210" fill-opacity="0.24" stroke="#208210" stroke-width="2.8"/>
<circle cx="1619.2" cy="1132.0" r="6.8" fill="#208210" fill-opacity="0.24" stroke="#208210" stroke-width="2.8"/>
<circle cx="1605.6" cy="1174.1" r="6.8" fill="#208210" fill-opacity="0.24" stroke="#208210" stroke-width="2.8"/>
<circle cx="1605.6" cy="1188.6" r="6.8" fill="#208210" fill-opacity="0.24" stroke="#208210" stroke-width="2.8"/>
<circle cx="1592.7" cy="1202.3" r="6.8" fill="#208210" fill-opacity="0.24" stroke="#208210" stroke-width="2.8"/>
<circle cx="1619.2" cy="1202.3" r="6.8" fill="#208210" fill-opacity="0.24" stroke="#208210" stroke-width="2.8"/>
<circle cx="1605.6" cy="1202.3" r="6.8" fill="#208210" fill-opacity="0.24" stroke="#208210" stroke-width="2.8"/>
<circle cx="1605.6" cy="1209.5" r="6.8" fill="#208210" fill-opacity="0.24" stroke="#208210" stroke-width="2.8"/>
<circle cx="1592.7" cy="1216.0" r="6.8" fill="#208210" fill-opacity="0.24" stroke="#208210" stroke-width="2.8"/>
<circle cx="1619.2" cy="1216.0" r="6.8" fill="#208210" fill-opacity="0.24" stroke="#208210" stroke-width="2.8"/>
<circle cx="1666.2" cy="1131.9" r="6.8" fill="#4f80ff" fill-opacity="0.24" stroke="#4f80ff" stroke-width="2.8"/>
<circle cx="1676.5" cy="1131.9" r="6.8" fill="#4f80ff" fill-opacity="0.24" stroke="#4f80ff" stroke-width="2.8"/>
<circle cx="1666.2" cy="1152.4" r="6.8" fill="#4f80ff" fill-opacity="0.24" stroke="#4f80ff" stroke-width="2.8"/>
<circle cx="1676.5" cy="1160.1" r="6.8" fill="#4f80ff" fill-opacity="0.24" stroke="#4f80ff" stroke-width="2.8"/>
<circle cx="1657.2" cy="1167.4" r="6.8" fill="#4f80ff" fill-opacity="0.24" stroke="#4f80ff" stroke-width="2.8"/>
<circle cx="1666.2" cy="1167.4" r="6.8" fill="#4f80ff" fill-opacity="0.24" stroke="#4f80ff" stroke-width="2.8"/>
<circle cx="1674.6" cy="1174.6" r="6.8" fill="#4f80ff" fill-opacity="0.24" stroke="#4f80ff" stroke-width="2.8"/>
<circle cx="1666.2" cy="1181.8" r="6.8" fill="#4f80ff" fill-opacity="0.24" stroke="#4f80ff" stroke-width="2.8"/>
<circle cx="1666.2" cy="1195.8" r="6.8" fill="#4f80ff" fill-opacity="0.24" stroke="#4f80ff" stroke-width="2.8"/>
<circle cx="1676.5" cy="1195.8" r="6.8" fill="#4f80ff" fill-opacity="0.24" stroke="#4f80ff" stroke-width="2.8"/>
<circle cx="1671.2" cy="1209.6" r="6.8" fill="#4f80ff" fill-opacity="0.24" stroke="#4f80ff" stroke-width="2.8"/>
<circle cx="1671.2" cy="1223.6" r="6.8" fill="#4f80ff" fill-opacity="0.24" stroke="#4f80ff" stroke-width="2.8"/>
<circle cx="1736.1" cy="1103.4" r="6.8" fill="#ea0008" fill-opacity="0.24" stroke="#ea0008" stroke-width="2.8"/>
<circle cx="1736.1" cy="1131.9" r="6.8" fill="#ea0008" fill-opacity="0.24" stroke="#ea0008" stroke-width="2.8"/>
<circle cx="1742.6" cy="1152.9" r="6.8" fill="#ea0008" fill-opacity="0.24" stroke="#ea0008" stroke-width="2.8"/>
<circle cx="1734.9" cy="1160.1" r="6.8" fill="#ea0008" fill-opacity="0.24" stroke="#ea0008" stroke-width="2.8"/>
<circle cx="1728.9" cy="1180.2" r="6.8" fill="#ea0008" fill-opacity="0.24" stroke="#ea0008" stroke-width="2.8"/>
<circle cx="1734.9" cy="1189.1" r="6.8" fill="#ea0008" fill-opacity="0.24" stroke="#ea0008" stroke-width="2.8"/>
<circle cx="1728.9" cy="1195.8" r="6.8" fill="#ea0008" fill-opacity="0.24" stroke="#ea0008" stroke-width="2.8"/>
<circle cx="1728.9" cy="1209.6" r="6.8" fill="#ea0008" fill-opacity="0.24" stroke="#ea0008" stroke-width="2.8"/>
<circle cx="1749.4" cy="1209.6" r="6.8" fill="#ea0008" fill-opacity="0.24" stroke="#ea0008" stroke-width="2.8"/>
<circle cx="1734.9" cy="1216.8" r="6.8" fill="#ea0008" fill-opacity="0.24" stroke="#ea0008" stroke-width="2.8"/>
<circle cx="1742.6" cy="1216.8" r="6.8" fill="#ea0008" fill-opacity="0.24" stroke="#ea0008" stroke-width="2.8"/>
<circle cx="1728.9" cy="1223.6" r="6.8" fill="#ea0008" fill-opacity="0.24" stroke="#ea0008" stroke-width="2.8"/>
<path d="M1431.9,948.9 V1231.5" stroke="#000" stroke-width="2.6" fill="none"/>
<path d="M1419.3,1230.2 H1781.3" stroke="#000" stroke-width="2.6" fill="none"/>
<path d="M1418.6,1230.2 H1431.9" stroke="#000" stroke-width="2.6" fill="none"/>
<text x="1399.80" y="1239.51" font-weight="bold" font-size="26.6">0</text>
<path d="M1418.6,1160.2 H1431.9" stroke="#000" stroke-width="2.6" fill="none"/>
<text x="1385.04" y="1169.51" font-weight="bold" font-size="26.6">10</text>
<path d="M1418.6,1090.2 H1431.9" stroke="#000" stroke-width="2.6" fill="none"/>
<text x="1385.04" y="1099.51" font-weight="bold" font-size="26.6">20</text>
<path d="M1418.6,1020.2 H1431.9" stroke="#000" stroke-width="2.6" fill="none"/>
<text x="1385.04" y="1029.51" font-weight="bold" font-size="26.6">30</text>
<path d="M1418.6,950.2 H1431.9" stroke="#000" stroke-width="2.6" fill="none"/>
<text x="1385.04" y="959.51" font-weight="bold" font-size="26.6">40</text>
<path d="M1475.5,1230.2 V1241.5" stroke="#000" stroke-width="2.3000000000000003" fill="none"/>
<path d="M1541.0,1230.2 V1241.5" stroke="#000" stroke-width="2.3000000000000003" fill="none"/>
<path d="M1606.1,1230.2 V1241.5" stroke="#000" stroke-width="2.3000000000000003" fill="none"/>
<path d="M1670.9,1230.2 V1241.5" stroke="#000" stroke-width="2.3000000000000003" fill="none"/>
<path d="M1735.5,1230.2 V1241.5" stroke="#000" stroke-width="2.3000000000000003" fill="none"/>
<text x="1667.50" y="1032.80" text-anchor="middle" font-size="31.5" fill="#000">NS</text>
<line x1="1602.5" y1="1043.8" x2="1729.8" y2="1041.4" stroke="#000" stroke-width="3.2" stroke-linecap="round"/>
<text x="1464.5" y="1179.9" font-weight="bold" font-size="53">*</text>
</svg>
</body></html>
